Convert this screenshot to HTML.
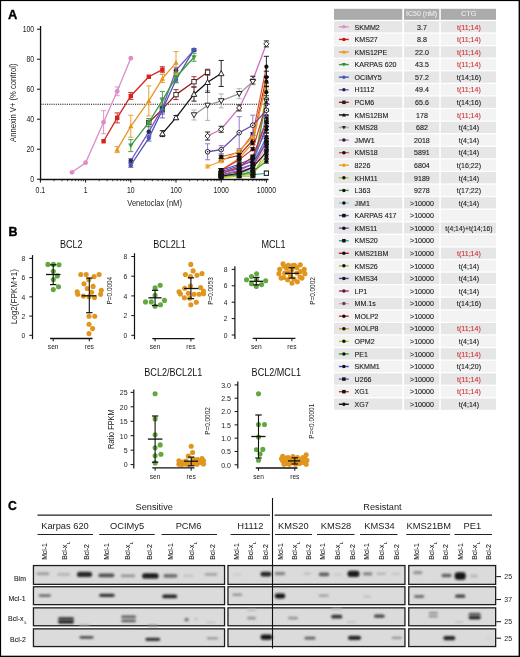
<!DOCTYPE html>
<html><head><meta charset="utf-8"><style>
html,body{margin:0;padding:0;background:#fff;}
svg{display:block;font-family:"Liberation Sans",sans-serif;will-change:transform;}
</style></head><body>
<svg width="520" height="657" viewBox="0 0 520 657">
<rect width="520" height="657" fill="#fff"/>
<text x="8.00" y="18.70" font-size="12.9" text-anchor="start" fill="#000" textLength="9.32" lengthAdjust="spacingAndGlyphs" font-weight="bold" stroke="#000" stroke-width="0.35">A</text>
<line x1="40.55" y1="26.00" x2="40.55" y2="180.10" stroke="#111" stroke-width="1.3"/>
<line x1="37.00" y1="179.20" x2="40.40" y2="179.20" stroke="#111" stroke-width="1.0"/>
<text x="34.20" y="182.10" font-size="8.3" text-anchor="end" fill="#222" textLength="3.83" lengthAdjust="spacingAndGlyphs">0</text>
<line x1="37.00" y1="149.20" x2="40.40" y2="149.20" stroke="#111" stroke-width="1.0"/>
<text x="34.20" y="152.10" font-size="8.3" text-anchor="end" fill="#222" textLength="7.66" lengthAdjust="spacingAndGlyphs">20</text>
<line x1="37.00" y1="119.20" x2="40.40" y2="119.20" stroke="#111" stroke-width="1.0"/>
<text x="34.20" y="122.10" font-size="8.3" text-anchor="end" fill="#222" textLength="7.66" lengthAdjust="spacingAndGlyphs">40</text>
<line x1="37.00" y1="89.20" x2="40.40" y2="89.20" stroke="#111" stroke-width="1.0"/>
<text x="34.20" y="92.10" font-size="8.3" text-anchor="end" fill="#222" textLength="7.66" lengthAdjust="spacingAndGlyphs">60</text>
<line x1="37.00" y1="59.20" x2="40.40" y2="59.20" stroke="#111" stroke-width="1.0"/>
<text x="34.20" y="62.10" font-size="8.3" text-anchor="end" fill="#222" textLength="7.66" lengthAdjust="spacingAndGlyphs">80</text>
<line x1="37.00" y1="29.20" x2="40.40" y2="29.20" stroke="#111" stroke-width="1.0"/>
<text x="34.20" y="32.10" font-size="8.3" text-anchor="end" fill="#222" textLength="11.49" lengthAdjust="spacingAndGlyphs">100</text>
<line x1="39.80" y1="179.40" x2="268.50" y2="179.40" stroke="#111" stroke-width="1.5"/>
<line x1="40.40" y1="179.20" x2="40.40" y2="182.60" stroke="#111" stroke-width="1.0"/>
<text x="40.40" y="192.50" font-size="8.3" text-anchor="middle" fill="#222" textLength="9.58" lengthAdjust="spacingAndGlyphs">0.1</text>
<line x1="54.01" y1="179.20" x2="54.01" y2="181.20" stroke="#111" stroke-width="0.8"/>
<line x1="61.97" y1="179.20" x2="61.97" y2="181.20" stroke="#111" stroke-width="0.8"/>
<line x1="67.61" y1="179.20" x2="67.61" y2="181.20" stroke="#111" stroke-width="0.8"/>
<line x1="71.99" y1="179.20" x2="71.99" y2="181.20" stroke="#111" stroke-width="0.8"/>
<line x1="75.57" y1="179.20" x2="75.57" y2="181.20" stroke="#111" stroke-width="0.8"/>
<line x1="78.60" y1="179.20" x2="78.60" y2="181.20" stroke="#111" stroke-width="0.8"/>
<line x1="81.22" y1="179.20" x2="81.22" y2="181.20" stroke="#111" stroke-width="0.8"/>
<line x1="83.53" y1="179.20" x2="83.53" y2="181.20" stroke="#111" stroke-width="0.8"/>
<line x1="85.60" y1="179.20" x2="85.60" y2="182.60" stroke="#111" stroke-width="1.0"/>
<text x="85.60" y="192.50" font-size="8.3" text-anchor="middle" fill="#222" textLength="3.83" lengthAdjust="spacingAndGlyphs">1</text>
<line x1="99.21" y1="179.20" x2="99.21" y2="181.20" stroke="#111" stroke-width="0.8"/>
<line x1="107.17" y1="179.20" x2="107.17" y2="181.20" stroke="#111" stroke-width="0.8"/>
<line x1="112.81" y1="179.20" x2="112.81" y2="181.20" stroke="#111" stroke-width="0.8"/>
<line x1="117.19" y1="179.20" x2="117.19" y2="181.20" stroke="#111" stroke-width="0.8"/>
<line x1="120.77" y1="179.20" x2="120.77" y2="181.20" stroke="#111" stroke-width="0.8"/>
<line x1="123.80" y1="179.20" x2="123.80" y2="181.20" stroke="#111" stroke-width="0.8"/>
<line x1="126.42" y1="179.20" x2="126.42" y2="181.20" stroke="#111" stroke-width="0.8"/>
<line x1="128.73" y1="179.20" x2="128.73" y2="181.20" stroke="#111" stroke-width="0.8"/>
<line x1="130.80" y1="179.20" x2="130.80" y2="182.60" stroke="#111" stroke-width="1.0"/>
<text x="130.80" y="192.50" font-size="8.3" text-anchor="middle" fill="#222" textLength="7.66" lengthAdjust="spacingAndGlyphs">10</text>
<line x1="144.41" y1="179.20" x2="144.41" y2="181.20" stroke="#111" stroke-width="0.8"/>
<line x1="152.37" y1="179.20" x2="152.37" y2="181.20" stroke="#111" stroke-width="0.8"/>
<line x1="158.01" y1="179.20" x2="158.01" y2="181.20" stroke="#111" stroke-width="0.8"/>
<line x1="162.39" y1="179.20" x2="162.39" y2="181.20" stroke="#111" stroke-width="0.8"/>
<line x1="165.97" y1="179.20" x2="165.97" y2="181.20" stroke="#111" stroke-width="0.8"/>
<line x1="169.00" y1="179.20" x2="169.00" y2="181.20" stroke="#111" stroke-width="0.8"/>
<line x1="171.62" y1="179.20" x2="171.62" y2="181.20" stroke="#111" stroke-width="0.8"/>
<line x1="173.93" y1="179.20" x2="173.93" y2="181.20" stroke="#111" stroke-width="0.8"/>
<line x1="176.00" y1="179.20" x2="176.00" y2="182.60" stroke="#111" stroke-width="1.0"/>
<text x="176.00" y="192.50" font-size="8.3" text-anchor="middle" fill="#222" textLength="11.49" lengthAdjust="spacingAndGlyphs">100</text>
<line x1="189.61" y1="179.20" x2="189.61" y2="181.20" stroke="#111" stroke-width="0.8"/>
<line x1="197.57" y1="179.20" x2="197.57" y2="181.20" stroke="#111" stroke-width="0.8"/>
<line x1="203.21" y1="179.20" x2="203.21" y2="181.20" stroke="#111" stroke-width="0.8"/>
<line x1="207.59" y1="179.20" x2="207.59" y2="181.20" stroke="#111" stroke-width="0.8"/>
<line x1="211.17" y1="179.20" x2="211.17" y2="181.20" stroke="#111" stroke-width="0.8"/>
<line x1="214.20" y1="179.20" x2="214.20" y2="181.20" stroke="#111" stroke-width="0.8"/>
<line x1="216.82" y1="179.20" x2="216.82" y2="181.20" stroke="#111" stroke-width="0.8"/>
<line x1="219.13" y1="179.20" x2="219.13" y2="181.20" stroke="#111" stroke-width="0.8"/>
<line x1="221.20" y1="179.20" x2="221.20" y2="182.60" stroke="#111" stroke-width="1.0"/>
<text x="221.20" y="192.50" font-size="8.3" text-anchor="middle" fill="#222" textLength="15.32" lengthAdjust="spacingAndGlyphs">1000</text>
<line x1="234.81" y1="179.20" x2="234.81" y2="181.20" stroke="#111" stroke-width="0.8"/>
<line x1="242.77" y1="179.20" x2="242.77" y2="181.20" stroke="#111" stroke-width="0.8"/>
<line x1="248.41" y1="179.20" x2="248.41" y2="181.20" stroke="#111" stroke-width="0.8"/>
<line x1="252.79" y1="179.20" x2="252.79" y2="181.20" stroke="#111" stroke-width="0.8"/>
<line x1="256.37" y1="179.20" x2="256.37" y2="181.20" stroke="#111" stroke-width="0.8"/>
<line x1="259.40" y1="179.20" x2="259.40" y2="181.20" stroke="#111" stroke-width="0.8"/>
<line x1="262.02" y1="179.20" x2="262.02" y2="181.20" stroke="#111" stroke-width="0.8"/>
<line x1="264.33" y1="179.20" x2="264.33" y2="181.20" stroke="#111" stroke-width="0.8"/>
<line x1="266.40" y1="179.20" x2="266.40" y2="182.60" stroke="#111" stroke-width="1.0"/>
<text x="266.40" y="192.50" font-size="8.3" text-anchor="middle" fill="#222" textLength="19.15" lengthAdjust="spacingAndGlyphs">10000</text>
<text x="16.30" y="102.70" font-size="8.8" text-anchor="middle" fill="#222" textLength="78.51" lengthAdjust="spacingAndGlyphs" transform="rotate(-90 16.30 102.70)">Annexin V+ (% control)</text>
<text x="154.60" y="205.80" font-size="8.9" text-anchor="middle" fill="#222" textLength="54.66" lengthAdjust="spacingAndGlyphs">Venetoclax (nM)</text>
<line x1="40.40" y1="104.2" x2="270" y2="104.2" stroke="#111" stroke-width="1.1" stroke-dasharray="1.1 1.1"/>
<path d="M221.20 156.70 L239.19 152.20 L252.79 134.20 L266.40 66.70" fill="none" stroke="#e05030" stroke-width="1.15"/>
<line x1="221.20" y1="155.20" x2="221.20" y2="158.20" stroke="#111" stroke-width="0.9"/>
<line x1="218.60" y1="155.20" x2="223.80" y2="155.20" stroke="#111" stroke-width="0.9"/>
<line x1="218.60" y1="158.20" x2="223.80" y2="158.20" stroke="#111" stroke-width="0.9"/>
<line x1="239.19" y1="150.70" x2="239.19" y2="153.70" stroke="#111" stroke-width="0.9"/>
<line x1="236.59" y1="150.70" x2="241.79" y2="150.70" stroke="#111" stroke-width="0.9"/>
<line x1="236.59" y1="153.70" x2="241.79" y2="153.70" stroke="#111" stroke-width="0.9"/>
<line x1="252.79" y1="132.70" x2="252.79" y2="135.70" stroke="#111" stroke-width="0.9"/>
<line x1="250.19" y1="132.70" x2="255.39" y2="132.70" stroke="#111" stroke-width="0.9"/>
<line x1="250.19" y1="135.70" x2="255.39" y2="135.70" stroke="#111" stroke-width="0.9"/>
<line x1="266.40" y1="56.30" x2="266.40" y2="77.10" stroke="#111" stroke-width="0.9"/>
<line x1="263.80" y1="56.30" x2="269.00" y2="56.30" stroke="#111" stroke-width="0.9"/>
<line x1="263.80" y1="77.10" x2="269.00" y2="77.10" stroke="#111" stroke-width="0.9"/>
<circle cx="221.20" cy="156.70" r="2.10" fill="#111"/>
<circle cx="239.19" cy="152.20" r="2.10" fill="#111"/>
<circle cx="252.79" cy="134.20" r="2.10" fill="#111"/>
<circle cx="266.40" cy="66.70" r="2.10" fill="#111"/>
<path d="M221.20 159.70 L239.19 155.20 L252.79 140.20 L266.40 77.20" fill="none" stroke="#b01e1e" stroke-width="1.15"/>
<line x1="221.20" y1="158.20" x2="221.20" y2="161.20" stroke="#111" stroke-width="0.9"/>
<line x1="218.60" y1="158.20" x2="223.80" y2="158.20" stroke="#111" stroke-width="0.9"/>
<line x1="218.60" y1="161.20" x2="223.80" y2="161.20" stroke="#111" stroke-width="0.9"/>
<line x1="239.19" y1="153.70" x2="239.19" y2="156.70" stroke="#111" stroke-width="0.9"/>
<line x1="236.59" y1="153.70" x2="241.79" y2="153.70" stroke="#111" stroke-width="0.9"/>
<line x1="236.59" y1="156.70" x2="241.79" y2="156.70" stroke="#111" stroke-width="0.9"/>
<line x1="252.79" y1="138.70" x2="252.79" y2="141.70" stroke="#111" stroke-width="0.9"/>
<line x1="250.19" y1="138.70" x2="255.39" y2="138.70" stroke="#111" stroke-width="0.9"/>
<line x1="250.19" y1="141.70" x2="255.39" y2="141.70" stroke="#111" stroke-width="0.9"/>
<line x1="266.40" y1="71.20" x2="266.40" y2="83.20" stroke="#111" stroke-width="0.9"/>
<line x1="263.80" y1="71.20" x2="269.00" y2="71.20" stroke="#111" stroke-width="0.9"/>
<line x1="263.80" y1="83.20" x2="269.00" y2="83.20" stroke="#111" stroke-width="0.9"/>
<circle cx="221.20" cy="159.70" r="2.10" fill="#111"/>
<circle cx="239.19" cy="155.20" r="2.10" fill="#111"/>
<circle cx="252.79" cy="140.20" r="2.10" fill="#111"/>
<circle cx="266.40" cy="77.20" r="2.10" fill="#111"/>
<path d="M207.59 166.45 L221.20 161.20 L239.19 150.70 L252.79 137.20 L266.40 86.20" fill="none" stroke="#f0a020" stroke-width="1.15"/>
<line x1="207.59" y1="164.95" x2="207.59" y2="167.95" stroke="#f0a020" stroke-width="0.9"/>
<line x1="204.99" y1="164.95" x2="210.19" y2="164.95" stroke="#f0a020" stroke-width="0.9"/>
<line x1="204.99" y1="167.95" x2="210.19" y2="167.95" stroke="#f0a020" stroke-width="0.9"/>
<line x1="221.20" y1="159.70" x2="221.20" y2="162.70" stroke="#f0a020" stroke-width="0.9"/>
<line x1="218.60" y1="159.70" x2="223.80" y2="159.70" stroke="#f0a020" stroke-width="0.9"/>
<line x1="218.60" y1="162.70" x2="223.80" y2="162.70" stroke="#f0a020" stroke-width="0.9"/>
<line x1="239.19" y1="149.20" x2="239.19" y2="152.20" stroke="#f0a020" stroke-width="0.9"/>
<line x1="236.59" y1="149.20" x2="241.79" y2="149.20" stroke="#f0a020" stroke-width="0.9"/>
<line x1="236.59" y1="152.20" x2="241.79" y2="152.20" stroke="#f0a020" stroke-width="0.9"/>
<line x1="252.79" y1="135.70" x2="252.79" y2="138.70" stroke="#f0a020" stroke-width="0.9"/>
<line x1="250.19" y1="135.70" x2="255.39" y2="135.70" stroke="#f0a020" stroke-width="0.9"/>
<line x1="250.19" y1="138.70" x2="255.39" y2="138.70" stroke="#f0a020" stroke-width="0.9"/>
<line x1="266.40" y1="83.20" x2="266.40" y2="89.20" stroke="#f0a020" stroke-width="0.9"/>
<line x1="263.80" y1="83.20" x2="269.00" y2="83.20" stroke="#f0a020" stroke-width="0.9"/>
<line x1="263.80" y1="89.20" x2="269.00" y2="89.20" stroke="#f0a020" stroke-width="0.9"/>
<path d="M205.49 166.45H209.69M207.59 164.35V168.55M206.12 164.98L209.06 167.92M209.06 164.98L206.12 167.92" stroke="#f0a020" stroke-width="0.8"/>
<path d="M219.10 161.20H223.30M221.20 159.10V163.30M219.73 159.73L222.67 162.67M222.67 159.73L219.73 162.67" stroke="#f0a020" stroke-width="0.8"/>
<path d="M237.09 150.70H241.29M239.19 148.60V152.80M237.72 149.23L240.66 152.17M240.66 149.23L237.72 152.17" stroke="#f0a020" stroke-width="0.8"/>
<path d="M250.69 137.20H254.89M252.79 135.10V139.30M251.32 135.73L254.26 138.67M254.26 135.73L251.32 138.67" stroke="#f0a020" stroke-width="0.8"/>
<path d="M264.30 86.20H268.50M266.40 84.10V88.30M264.93 84.73L267.87 87.67M267.87 84.73L264.93 87.67" stroke="#f0a020" stroke-width="0.8"/>
<path d="M221.20 170.20 L239.19 158.20 L252.79 143.20 L266.40 81.70" fill="none" stroke="#e89520" stroke-width="1.15"/>
<line x1="221.20" y1="168.70" x2="221.20" y2="171.70" stroke="#111" stroke-width="0.9"/>
<line x1="218.60" y1="168.70" x2="223.80" y2="168.70" stroke="#111" stroke-width="0.9"/>
<line x1="218.60" y1="171.70" x2="223.80" y2="171.70" stroke="#111" stroke-width="0.9"/>
<line x1="239.19" y1="156.70" x2="239.19" y2="159.70" stroke="#111" stroke-width="0.9"/>
<line x1="236.59" y1="156.70" x2="241.79" y2="156.70" stroke="#111" stroke-width="0.9"/>
<line x1="236.59" y1="159.70" x2="241.79" y2="159.70" stroke="#111" stroke-width="0.9"/>
<line x1="252.79" y1="141.70" x2="252.79" y2="144.70" stroke="#111" stroke-width="0.9"/>
<line x1="250.19" y1="141.70" x2="255.39" y2="141.70" stroke="#111" stroke-width="0.9"/>
<line x1="250.19" y1="144.70" x2="255.39" y2="144.70" stroke="#111" stroke-width="0.9"/>
<line x1="266.40" y1="76.70" x2="266.40" y2="86.70" stroke="#111" stroke-width="0.9"/>
<line x1="263.80" y1="76.70" x2="269.00" y2="76.70" stroke="#111" stroke-width="0.9"/>
<line x1="263.80" y1="86.70" x2="269.00" y2="86.70" stroke="#111" stroke-width="0.9"/>
<circle cx="221.20" cy="170.20" r="2.10" fill="#111"/>
<circle cx="239.19" cy="158.20" r="2.10" fill="#111"/>
<circle cx="252.79" cy="143.20" r="2.10" fill="#111"/>
<circle cx="266.40" cy="81.70" r="2.10" fill="#111"/>
<path d="M221.20 170.20 L239.19 164.20 L252.79 158.20 L266.40 119.20" fill="none" stroke="#4050c0" stroke-width="1.15"/>
<line x1="221.20" y1="168.70" x2="221.20" y2="171.70" stroke="#111" stroke-width="0.9"/>
<line x1="218.60" y1="168.70" x2="223.80" y2="168.70" stroke="#111" stroke-width="0.9"/>
<line x1="218.60" y1="171.70" x2="223.80" y2="171.70" stroke="#111" stroke-width="0.9"/>
<line x1="239.19" y1="162.70" x2="239.19" y2="165.70" stroke="#111" stroke-width="0.9"/>
<line x1="236.59" y1="162.70" x2="241.79" y2="162.70" stroke="#111" stroke-width="0.9"/>
<line x1="236.59" y1="165.70" x2="241.79" y2="165.70" stroke="#111" stroke-width="0.9"/>
<line x1="252.79" y1="156.70" x2="252.79" y2="159.70" stroke="#111" stroke-width="0.9"/>
<line x1="250.19" y1="156.70" x2="255.39" y2="156.70" stroke="#111" stroke-width="0.9"/>
<line x1="250.19" y1="159.70" x2="255.39" y2="159.70" stroke="#111" stroke-width="0.9"/>
<line x1="266.40" y1="115.20" x2="266.40" y2="123.20" stroke="#111" stroke-width="0.9"/>
<line x1="263.80" y1="115.20" x2="269.00" y2="115.20" stroke="#111" stroke-width="0.9"/>
<line x1="263.80" y1="123.20" x2="269.00" y2="123.20" stroke="#111" stroke-width="0.9"/>
<circle cx="221.20" cy="170.20" r="2.10" fill="#111"/>
<circle cx="239.19" cy="164.20" r="2.10" fill="#111"/>
<circle cx="252.79" cy="158.20" r="2.10" fill="#111"/>
<circle cx="266.40" cy="119.20" r="2.10" fill="#111"/>
<path d="M221.20 171.70 L239.19 165.70 L252.79 161.20 L266.40 126.70" fill="none" stroke="#5a3cb0" stroke-width="1.15"/>
<line x1="221.20" y1="170.20" x2="221.20" y2="173.20" stroke="#111" stroke-width="0.9"/>
<line x1="218.60" y1="170.20" x2="223.80" y2="170.20" stroke="#111" stroke-width="0.9"/>
<line x1="218.60" y1="173.20" x2="223.80" y2="173.20" stroke="#111" stroke-width="0.9"/>
<line x1="239.19" y1="164.20" x2="239.19" y2="167.20" stroke="#111" stroke-width="0.9"/>
<line x1="236.59" y1="164.20" x2="241.79" y2="164.20" stroke="#111" stroke-width="0.9"/>
<line x1="236.59" y1="167.20" x2="241.79" y2="167.20" stroke="#111" stroke-width="0.9"/>
<line x1="252.79" y1="159.70" x2="252.79" y2="162.70" stroke="#111" stroke-width="0.9"/>
<line x1="250.19" y1="159.70" x2="255.39" y2="159.70" stroke="#111" stroke-width="0.9"/>
<line x1="250.19" y1="162.70" x2="255.39" y2="162.70" stroke="#111" stroke-width="0.9"/>
<line x1="266.40" y1="123.70" x2="266.40" y2="129.70" stroke="#111" stroke-width="0.9"/>
<line x1="263.80" y1="123.70" x2="269.00" y2="123.70" stroke="#111" stroke-width="0.9"/>
<line x1="263.80" y1="129.70" x2="269.00" y2="129.70" stroke="#111" stroke-width="0.9"/>
<circle cx="221.20" cy="171.70" r="2.10" fill="#111"/>
<circle cx="239.19" cy="165.70" r="2.10" fill="#111"/>
<circle cx="252.79" cy="161.20" r="2.10" fill="#111"/>
<circle cx="266.40" cy="126.70" r="2.10" fill="#111"/>
<path d="M221.20 176.20 L239.19 174.70 L252.79 173.20 L266.40 92.20" fill="none" stroke="#a8c830" stroke-width="1.15"/>
<line x1="221.20" y1="174.70" x2="221.20" y2="177.70" stroke="#111" stroke-width="0.9"/>
<line x1="218.60" y1="174.70" x2="223.80" y2="174.70" stroke="#111" stroke-width="0.9"/>
<line x1="218.60" y1="177.70" x2="223.80" y2="177.70" stroke="#111" stroke-width="0.9"/>
<line x1="239.19" y1="173.20" x2="239.19" y2="176.20" stroke="#111" stroke-width="0.9"/>
<line x1="236.59" y1="173.20" x2="241.79" y2="173.20" stroke="#111" stroke-width="0.9"/>
<line x1="236.59" y1="176.20" x2="241.79" y2="176.20" stroke="#111" stroke-width="0.9"/>
<line x1="252.79" y1="171.70" x2="252.79" y2="174.70" stroke="#111" stroke-width="0.9"/>
<line x1="250.19" y1="171.70" x2="255.39" y2="171.70" stroke="#111" stroke-width="0.9"/>
<line x1="250.19" y1="174.70" x2="255.39" y2="174.70" stroke="#111" stroke-width="0.9"/>
<line x1="266.40" y1="86.20" x2="266.40" y2="98.20" stroke="#111" stroke-width="0.9"/>
<line x1="263.80" y1="86.20" x2="269.00" y2="86.20" stroke="#111" stroke-width="0.9"/>
<line x1="263.80" y1="98.20" x2="269.00" y2="98.20" stroke="#111" stroke-width="0.9"/>
<circle cx="221.20" cy="176.20" r="2.10" fill="#111"/>
<circle cx="239.19" cy="174.70" r="2.10" fill="#111"/>
<circle cx="252.79" cy="173.20" r="2.10" fill="#111"/>
<circle cx="266.40" cy="92.20" r="2.10" fill="#111"/>
<path d="M221.20 174.70 L239.19 174.70 L252.79 171.70 L266.40 99.70" fill="none" stroke="#40a040" stroke-width="1.15"/>
<line x1="221.20" y1="173.20" x2="221.20" y2="176.20" stroke="#333" stroke-width="0.9"/>
<line x1="218.60" y1="173.20" x2="223.80" y2="173.20" stroke="#333" stroke-width="0.9"/>
<line x1="218.60" y1="176.20" x2="223.80" y2="176.20" stroke="#333" stroke-width="0.9"/>
<line x1="239.19" y1="173.20" x2="239.19" y2="176.20" stroke="#333" stroke-width="0.9"/>
<line x1="236.59" y1="173.20" x2="241.79" y2="173.20" stroke="#333" stroke-width="0.9"/>
<line x1="236.59" y1="176.20" x2="241.79" y2="176.20" stroke="#333" stroke-width="0.9"/>
<line x1="252.79" y1="170.20" x2="252.79" y2="173.20" stroke="#333" stroke-width="0.9"/>
<line x1="250.19" y1="170.20" x2="255.39" y2="170.20" stroke="#333" stroke-width="0.9"/>
<line x1="250.19" y1="173.20" x2="255.39" y2="173.20" stroke="#333" stroke-width="0.9"/>
<line x1="266.40" y1="95.70" x2="266.40" y2="103.70" stroke="#333" stroke-width="0.9"/>
<line x1="263.80" y1="95.70" x2="269.00" y2="95.70" stroke="#333" stroke-width="0.9"/>
<line x1="263.80" y1="103.70" x2="269.00" y2="103.70" stroke="#333" stroke-width="0.9"/>
<circle cx="221.20" cy="174.70" r="2.10" fill="#fff" stroke="#333" stroke-width="0.9"/>
<circle cx="221.20" cy="174.70" r="0.73" fill="#333"/>
<circle cx="239.19" cy="174.70" r="2.10" fill="#fff" stroke="#333" stroke-width="0.9"/>
<circle cx="239.19" cy="174.70" r="0.73" fill="#333"/>
<circle cx="252.79" cy="171.70" r="2.10" fill="#fff" stroke="#333" stroke-width="0.9"/>
<circle cx="252.79" cy="171.70" r="0.73" fill="#333"/>
<circle cx="266.40" cy="99.70" r="2.10" fill="#fff" stroke="#333" stroke-width="0.9"/>
<circle cx="266.40" cy="99.70" r="0.73" fill="#333"/>
<path d="M221.20 176.20 L239.19 173.20 L252.79 170.20 L266.40 116.20" fill="none" stroke="#80c8e8" stroke-width="1.15"/>
<line x1="221.20" y1="174.70" x2="221.20" y2="177.70" stroke="#111" stroke-width="0.9"/>
<line x1="218.60" y1="174.70" x2="223.80" y2="174.70" stroke="#111" stroke-width="0.9"/>
<line x1="218.60" y1="177.70" x2="223.80" y2="177.70" stroke="#111" stroke-width="0.9"/>
<line x1="239.19" y1="171.70" x2="239.19" y2="174.70" stroke="#111" stroke-width="0.9"/>
<line x1="236.59" y1="171.70" x2="241.79" y2="171.70" stroke="#111" stroke-width="0.9"/>
<line x1="236.59" y1="174.70" x2="241.79" y2="174.70" stroke="#111" stroke-width="0.9"/>
<line x1="252.79" y1="168.70" x2="252.79" y2="171.70" stroke="#111" stroke-width="0.9"/>
<line x1="250.19" y1="168.70" x2="255.39" y2="168.70" stroke="#111" stroke-width="0.9"/>
<line x1="250.19" y1="171.70" x2="255.39" y2="171.70" stroke="#111" stroke-width="0.9"/>
<line x1="266.40" y1="111.20" x2="266.40" y2="121.20" stroke="#111" stroke-width="0.9"/>
<line x1="263.80" y1="111.20" x2="269.00" y2="111.20" stroke="#111" stroke-width="0.9"/>
<line x1="263.80" y1="121.20" x2="269.00" y2="121.20" stroke="#111" stroke-width="0.9"/>
<circle cx="221.20" cy="176.20" r="2.10" fill="#111"/>
<circle cx="239.19" cy="173.20" r="2.10" fill="#111"/>
<circle cx="252.79" cy="170.20" r="2.10" fill="#111"/>
<circle cx="266.40" cy="116.20" r="2.10" fill="#111"/>
<path d="M221.20 174.70 L239.19 174.70 L252.79 174.70 L266.40 173.20" fill="none" stroke="#40a0a0" stroke-width="1.15"/>
<line x1="221.20" y1="173.20" x2="221.20" y2="176.20" stroke="#111" stroke-width="0.9"/>
<line x1="218.60" y1="173.20" x2="223.80" y2="173.20" stroke="#111" stroke-width="0.9"/>
<line x1="218.60" y1="176.20" x2="223.80" y2="176.20" stroke="#111" stroke-width="0.9"/>
<line x1="239.19" y1="173.20" x2="239.19" y2="176.20" stroke="#111" stroke-width="0.9"/>
<line x1="236.59" y1="173.20" x2="241.79" y2="173.20" stroke="#111" stroke-width="0.9"/>
<line x1="236.59" y1="176.20" x2="241.79" y2="176.20" stroke="#111" stroke-width="0.9"/>
<line x1="252.79" y1="173.20" x2="252.79" y2="176.20" stroke="#111" stroke-width="0.9"/>
<line x1="250.19" y1="173.20" x2="255.39" y2="173.20" stroke="#111" stroke-width="0.9"/>
<line x1="250.19" y1="176.20" x2="255.39" y2="176.20" stroke="#111" stroke-width="0.9"/>
<line x1="266.40" y1="171.20" x2="266.40" y2="175.20" stroke="#111" stroke-width="0.9"/>
<line x1="263.80" y1="171.20" x2="269.00" y2="171.20" stroke="#111" stroke-width="0.9"/>
<line x1="263.80" y1="175.20" x2="269.00" y2="175.20" stroke="#111" stroke-width="0.9"/>
<rect x="219.10" y="172.60" width="4.20" height="4.20" fill="#fff" stroke="#111" stroke-width="0.9"/>
<rect x="237.09" y="172.60" width="4.20" height="4.20" fill="#fff" stroke="#111" stroke-width="0.9"/>
<rect x="250.69" y="172.60" width="4.20" height="4.20" fill="#fff" stroke="#111" stroke-width="0.9"/>
<rect x="264.30" y="171.10" width="4.20" height="4.20" fill="#fff" stroke="#111" stroke-width="0.9"/>
<path d="M221.20 173.20 L239.19 168.70 L252.79 164.20 L266.40 137.20" fill="none" stroke="#5060c0" stroke-width="1.15"/>
<line x1="221.20" y1="171.70" x2="221.20" y2="174.70" stroke="#111" stroke-width="0.9"/>
<line x1="218.60" y1="171.70" x2="223.80" y2="171.70" stroke="#111" stroke-width="0.9"/>
<line x1="218.60" y1="174.70" x2="223.80" y2="174.70" stroke="#111" stroke-width="0.9"/>
<line x1="239.19" y1="167.20" x2="239.19" y2="170.20" stroke="#111" stroke-width="0.9"/>
<line x1="236.59" y1="167.20" x2="241.79" y2="167.20" stroke="#111" stroke-width="0.9"/>
<line x1="236.59" y1="170.20" x2="241.79" y2="170.20" stroke="#111" stroke-width="0.9"/>
<line x1="252.79" y1="162.70" x2="252.79" y2="165.70" stroke="#111" stroke-width="0.9"/>
<line x1="250.19" y1="162.70" x2="255.39" y2="162.70" stroke="#111" stroke-width="0.9"/>
<line x1="250.19" y1="165.70" x2="255.39" y2="165.70" stroke="#111" stroke-width="0.9"/>
<line x1="266.40" y1="133.20" x2="266.40" y2="141.20" stroke="#111" stroke-width="0.9"/>
<line x1="263.80" y1="133.20" x2="269.00" y2="133.20" stroke="#111" stroke-width="0.9"/>
<line x1="263.80" y1="141.20" x2="269.00" y2="141.20" stroke="#111" stroke-width="0.9"/>
<rect x="219.10" y="171.10" width="4.20" height="4.20" fill="#111"/>
<rect x="237.09" y="166.60" width="4.20" height="4.20" fill="#111"/>
<rect x="250.69" y="162.10" width="4.20" height="4.20" fill="#111"/>
<rect x="264.30" y="135.10" width="4.20" height="4.20" fill="#111"/>
<path d="M221.20 173.20 L239.19 167.20 L252.79 159.70 L266.40 129.70" fill="none" stroke="#8050c0" stroke-width="1.15"/>
<line x1="221.20" y1="171.70" x2="221.20" y2="174.70" stroke="#111" stroke-width="0.9"/>
<line x1="218.60" y1="171.70" x2="223.80" y2="171.70" stroke="#111" stroke-width="0.9"/>
<line x1="218.60" y1="174.70" x2="223.80" y2="174.70" stroke="#111" stroke-width="0.9"/>
<line x1="239.19" y1="165.70" x2="239.19" y2="168.70" stroke="#111" stroke-width="0.9"/>
<line x1="236.59" y1="165.70" x2="241.79" y2="165.70" stroke="#111" stroke-width="0.9"/>
<line x1="236.59" y1="168.70" x2="241.79" y2="168.70" stroke="#111" stroke-width="0.9"/>
<line x1="252.79" y1="158.20" x2="252.79" y2="161.20" stroke="#111" stroke-width="0.9"/>
<line x1="250.19" y1="158.20" x2="255.39" y2="158.20" stroke="#111" stroke-width="0.9"/>
<line x1="250.19" y1="161.20" x2="255.39" y2="161.20" stroke="#111" stroke-width="0.9"/>
<line x1="266.40" y1="126.70" x2="266.40" y2="132.70" stroke="#111" stroke-width="0.9"/>
<line x1="263.80" y1="126.70" x2="269.00" y2="126.70" stroke="#111" stroke-width="0.9"/>
<line x1="263.80" y1="132.70" x2="269.00" y2="132.70" stroke="#111" stroke-width="0.9"/>
<circle cx="221.20" cy="173.20" r="2.10" fill="#111"/>
<circle cx="239.19" cy="167.20" r="2.10" fill="#111"/>
<circle cx="252.79" cy="159.70" r="2.10" fill="#111"/>
<circle cx="266.40" cy="129.70" r="2.10" fill="#111"/>
<path d="M221.20 176.20 L239.19 176.20 L252.79 176.20 L266.40 149.20" fill="none" stroke="#b8b040" stroke-width="1.15"/>
<line x1="221.20" y1="174.70" x2="221.20" y2="177.70" stroke="#111" stroke-width="0.9"/>
<line x1="218.60" y1="174.70" x2="223.80" y2="174.70" stroke="#111" stroke-width="0.9"/>
<line x1="218.60" y1="177.70" x2="223.80" y2="177.70" stroke="#111" stroke-width="0.9"/>
<line x1="239.19" y1="174.70" x2="239.19" y2="177.70" stroke="#111" stroke-width="0.9"/>
<line x1="236.59" y1="174.70" x2="241.79" y2="174.70" stroke="#111" stroke-width="0.9"/>
<line x1="236.59" y1="177.70" x2="241.79" y2="177.70" stroke="#111" stroke-width="0.9"/>
<line x1="252.79" y1="174.70" x2="252.79" y2="177.70" stroke="#111" stroke-width="0.9"/>
<line x1="250.19" y1="174.70" x2="255.39" y2="174.70" stroke="#111" stroke-width="0.9"/>
<line x1="250.19" y1="177.70" x2="255.39" y2="177.70" stroke="#111" stroke-width="0.9"/>
<line x1="266.40" y1="147.20" x2="266.40" y2="151.20" stroke="#111" stroke-width="0.9"/>
<line x1="263.80" y1="147.20" x2="269.00" y2="147.20" stroke="#111" stroke-width="0.9"/>
<line x1="263.80" y1="151.20" x2="269.00" y2="151.20" stroke="#111" stroke-width="0.9"/>
<circle cx="221.20" cy="176.20" r="2.10" fill="#111"/>
<circle cx="239.19" cy="176.20" r="2.10" fill="#111"/>
<circle cx="252.79" cy="176.20" r="2.10" fill="#111"/>
<circle cx="266.40" cy="149.20" r="2.10" fill="#111"/>
<path d="M221.20 174.70 L239.19 171.70 L252.79 167.20 L266.40 141.70" fill="none" stroke="#b03060" stroke-width="1.15"/>
<line x1="221.20" y1="173.20" x2="221.20" y2="176.20" stroke="#111" stroke-width="0.9"/>
<line x1="218.60" y1="173.20" x2="223.80" y2="173.20" stroke="#111" stroke-width="0.9"/>
<line x1="218.60" y1="176.20" x2="223.80" y2="176.20" stroke="#111" stroke-width="0.9"/>
<line x1="239.19" y1="170.20" x2="239.19" y2="173.20" stroke="#111" stroke-width="0.9"/>
<line x1="236.59" y1="170.20" x2="241.79" y2="170.20" stroke="#111" stroke-width="0.9"/>
<line x1="236.59" y1="173.20" x2="241.79" y2="173.20" stroke="#111" stroke-width="0.9"/>
<line x1="252.79" y1="165.70" x2="252.79" y2="168.70" stroke="#111" stroke-width="0.9"/>
<line x1="250.19" y1="165.70" x2="255.39" y2="165.70" stroke="#111" stroke-width="0.9"/>
<line x1="250.19" y1="168.70" x2="255.39" y2="168.70" stroke="#111" stroke-width="0.9"/>
<line x1="266.40" y1="138.70" x2="266.40" y2="144.70" stroke="#111" stroke-width="0.9"/>
<line x1="263.80" y1="138.70" x2="269.00" y2="138.70" stroke="#111" stroke-width="0.9"/>
<line x1="263.80" y1="144.70" x2="269.00" y2="144.70" stroke="#111" stroke-width="0.9"/>
<circle cx="221.20" cy="174.70" r="2.10" fill="#111"/>
<circle cx="239.19" cy="171.70" r="2.10" fill="#111"/>
<circle cx="252.79" cy="167.20" r="2.10" fill="#111"/>
<circle cx="266.40" cy="141.70" r="2.10" fill="#111"/>
<path d="M221.20 176.20 L239.19 173.20 L252.79 168.70 L266.40 146.20" fill="none" stroke="#e0a0d0" stroke-width="1.15"/>
<line x1="221.20" y1="174.70" x2="221.20" y2="177.70" stroke="#111" stroke-width="0.9"/>
<line x1="218.60" y1="174.70" x2="223.80" y2="174.70" stroke="#111" stroke-width="0.9"/>
<line x1="218.60" y1="177.70" x2="223.80" y2="177.70" stroke="#111" stroke-width="0.9"/>
<line x1="239.19" y1="171.70" x2="239.19" y2="174.70" stroke="#111" stroke-width="0.9"/>
<line x1="236.59" y1="171.70" x2="241.79" y2="171.70" stroke="#111" stroke-width="0.9"/>
<line x1="236.59" y1="174.70" x2="241.79" y2="174.70" stroke="#111" stroke-width="0.9"/>
<line x1="252.79" y1="167.20" x2="252.79" y2="170.20" stroke="#111" stroke-width="0.9"/>
<line x1="250.19" y1="167.20" x2="255.39" y2="167.20" stroke="#111" stroke-width="0.9"/>
<line x1="250.19" y1="170.20" x2="255.39" y2="170.20" stroke="#111" stroke-width="0.9"/>
<line x1="266.40" y1="143.20" x2="266.40" y2="149.20" stroke="#111" stroke-width="0.9"/>
<line x1="263.80" y1="143.20" x2="269.00" y2="143.20" stroke="#111" stroke-width="0.9"/>
<line x1="263.80" y1="149.20" x2="269.00" y2="149.20" stroke="#111" stroke-width="0.9"/>
<circle cx="221.20" cy="176.20" r="2.10" fill="#111"/>
<circle cx="239.19" cy="173.20" r="2.10" fill="#111"/>
<circle cx="252.79" cy="168.70" r="2.10" fill="#111"/>
<circle cx="266.40" cy="146.20" r="2.10" fill="#111"/>
<path d="M221.20 170.20 L239.19 159.70 L252.79 149.20 L266.40 104.20" fill="none" stroke="#d83030" stroke-width="1.15"/>
<line x1="221.20" y1="168.70" x2="221.20" y2="171.70" stroke="#111" stroke-width="0.9"/>
<line x1="218.60" y1="168.70" x2="223.80" y2="168.70" stroke="#111" stroke-width="0.9"/>
<line x1="218.60" y1="171.70" x2="223.80" y2="171.70" stroke="#111" stroke-width="0.9"/>
<line x1="239.19" y1="158.20" x2="239.19" y2="161.20" stroke="#111" stroke-width="0.9"/>
<line x1="236.59" y1="158.20" x2="241.79" y2="158.20" stroke="#111" stroke-width="0.9"/>
<line x1="236.59" y1="161.20" x2="241.79" y2="161.20" stroke="#111" stroke-width="0.9"/>
<line x1="252.79" y1="147.70" x2="252.79" y2="150.70" stroke="#111" stroke-width="0.9"/>
<line x1="250.19" y1="147.70" x2="255.39" y2="147.70" stroke="#111" stroke-width="0.9"/>
<line x1="250.19" y1="150.70" x2="255.39" y2="150.70" stroke="#111" stroke-width="0.9"/>
<line x1="266.40" y1="99.20" x2="266.40" y2="109.20" stroke="#111" stroke-width="0.9"/>
<line x1="263.80" y1="99.20" x2="269.00" y2="99.20" stroke="#111" stroke-width="0.9"/>
<line x1="263.80" y1="109.20" x2="269.00" y2="109.20" stroke="#111" stroke-width="0.9"/>
<circle cx="221.20" cy="170.20" r="2.10" fill="#111"/>
<circle cx="239.19" cy="159.70" r="2.10" fill="#111"/>
<circle cx="252.79" cy="149.20" r="2.10" fill="#111"/>
<circle cx="266.40" cy="104.20" r="2.10" fill="#111"/>
<path d="M221.20 177.70 L239.19 176.20 L252.79 173.20 L266.40 156.70" fill="none" stroke="#b0d020" stroke-width="1.15"/>
<line x1="221.20" y1="176.20" x2="221.20" y2="179.20" stroke="#111" stroke-width="0.9"/>
<line x1="218.60" y1="176.20" x2="223.80" y2="176.20" stroke="#111" stroke-width="0.9"/>
<line x1="218.60" y1="179.20" x2="223.80" y2="179.20" stroke="#111" stroke-width="0.9"/>
<line x1="239.19" y1="174.70" x2="239.19" y2="177.70" stroke="#111" stroke-width="0.9"/>
<line x1="236.59" y1="174.70" x2="241.79" y2="174.70" stroke="#111" stroke-width="0.9"/>
<line x1="236.59" y1="177.70" x2="241.79" y2="177.70" stroke="#111" stroke-width="0.9"/>
<line x1="252.79" y1="171.70" x2="252.79" y2="174.70" stroke="#111" stroke-width="0.9"/>
<line x1="250.19" y1="171.70" x2="255.39" y2="171.70" stroke="#111" stroke-width="0.9"/>
<line x1="250.19" y1="174.70" x2="255.39" y2="174.70" stroke="#111" stroke-width="0.9"/>
<line x1="266.40" y1="154.70" x2="266.40" y2="158.70" stroke="#111" stroke-width="0.9"/>
<line x1="263.80" y1="154.70" x2="269.00" y2="154.70" stroke="#111" stroke-width="0.9"/>
<line x1="263.80" y1="158.70" x2="269.00" y2="158.70" stroke="#111" stroke-width="0.9"/>
<circle cx="221.20" cy="177.70" r="2.10" fill="#111"/>
<circle cx="239.19" cy="176.20" r="2.10" fill="#111"/>
<circle cx="252.79" cy="173.20" r="2.10" fill="#111"/>
<circle cx="266.40" cy="156.70" r="2.10" fill="#111"/>
<path d="M221.20 176.20 L239.19 174.70 L252.79 171.70 L266.40 161.20" fill="none" stroke="#3c9a3c" stroke-width="1.15"/>
<line x1="221.20" y1="174.70" x2="221.20" y2="177.70" stroke="#111" stroke-width="0.9"/>
<line x1="218.60" y1="174.70" x2="223.80" y2="174.70" stroke="#111" stroke-width="0.9"/>
<line x1="218.60" y1="177.70" x2="223.80" y2="177.70" stroke="#111" stroke-width="0.9"/>
<line x1="239.19" y1="173.20" x2="239.19" y2="176.20" stroke="#111" stroke-width="0.9"/>
<line x1="236.59" y1="173.20" x2="241.79" y2="173.20" stroke="#111" stroke-width="0.9"/>
<line x1="236.59" y1="176.20" x2="241.79" y2="176.20" stroke="#111" stroke-width="0.9"/>
<line x1="252.79" y1="170.20" x2="252.79" y2="173.20" stroke="#111" stroke-width="0.9"/>
<line x1="250.19" y1="170.20" x2="255.39" y2="170.20" stroke="#111" stroke-width="0.9"/>
<line x1="250.19" y1="173.20" x2="255.39" y2="173.20" stroke="#111" stroke-width="0.9"/>
<line x1="266.40" y1="159.20" x2="266.40" y2="163.20" stroke="#111" stroke-width="0.9"/>
<line x1="263.80" y1="159.20" x2="269.00" y2="159.20" stroke="#111" stroke-width="0.9"/>
<line x1="263.80" y1="163.20" x2="269.00" y2="163.20" stroke="#111" stroke-width="0.9"/>
<circle cx="221.20" cy="176.20" r="2.10" fill="#111"/>
<circle cx="239.19" cy="174.70" r="2.10" fill="#111"/>
<circle cx="252.79" cy="171.70" r="2.10" fill="#111"/>
<circle cx="266.40" cy="161.20" r="2.10" fill="#111"/>
<path d="M221.20 174.70 L239.19 170.20 L252.79 164.20 L266.40 141.70" fill="none" stroke="#7a55c0" stroke-width="1.15"/>
<line x1="221.20" y1="173.20" x2="221.20" y2="176.20" stroke="#111" stroke-width="0.9"/>
<line x1="218.60" y1="173.20" x2="223.80" y2="173.20" stroke="#111" stroke-width="0.9"/>
<line x1="218.60" y1="176.20" x2="223.80" y2="176.20" stroke="#111" stroke-width="0.9"/>
<line x1="239.19" y1="168.70" x2="239.19" y2="171.70" stroke="#111" stroke-width="0.9"/>
<line x1="236.59" y1="168.70" x2="241.79" y2="168.70" stroke="#111" stroke-width="0.9"/>
<line x1="236.59" y1="171.70" x2="241.79" y2="171.70" stroke="#111" stroke-width="0.9"/>
<line x1="252.79" y1="162.70" x2="252.79" y2="165.70" stroke="#111" stroke-width="0.9"/>
<line x1="250.19" y1="162.70" x2="255.39" y2="162.70" stroke="#111" stroke-width="0.9"/>
<line x1="250.19" y1="165.70" x2="255.39" y2="165.70" stroke="#111" stroke-width="0.9"/>
<line x1="266.40" y1="138.70" x2="266.40" y2="144.70" stroke="#111" stroke-width="0.9"/>
<line x1="263.80" y1="138.70" x2="269.00" y2="138.70" stroke="#111" stroke-width="0.9"/>
<line x1="263.80" y1="144.70" x2="269.00" y2="144.70" stroke="#111" stroke-width="0.9"/>
<rect x="219.10" y="172.60" width="4.20" height="4.20" fill="#111"/>
<rect x="237.09" y="168.10" width="4.20" height="4.20" fill="#111"/>
<rect x="250.69" y="162.10" width="4.20" height="4.20" fill="#111"/>
<rect x="264.30" y="139.60" width="4.20" height="4.20" fill="#111"/>
<path d="M221.20 173.20 L239.19 167.20 L252.79 156.70 L266.40 122.20" fill="none" stroke="#c83030" stroke-width="1.15"/>
<line x1="221.20" y1="171.70" x2="221.20" y2="174.70" stroke="#111" stroke-width="0.9"/>
<line x1="218.60" y1="171.70" x2="223.80" y2="171.70" stroke="#111" stroke-width="0.9"/>
<line x1="218.60" y1="174.70" x2="223.80" y2="174.70" stroke="#111" stroke-width="0.9"/>
<line x1="239.19" y1="165.70" x2="239.19" y2="168.70" stroke="#111" stroke-width="0.9"/>
<line x1="236.59" y1="165.70" x2="241.79" y2="165.70" stroke="#111" stroke-width="0.9"/>
<line x1="236.59" y1="168.70" x2="241.79" y2="168.70" stroke="#111" stroke-width="0.9"/>
<line x1="252.79" y1="155.20" x2="252.79" y2="158.20" stroke="#111" stroke-width="0.9"/>
<line x1="250.19" y1="155.20" x2="255.39" y2="155.20" stroke="#111" stroke-width="0.9"/>
<line x1="250.19" y1="158.20" x2="255.39" y2="158.20" stroke="#111" stroke-width="0.9"/>
<line x1="266.40" y1="118.20" x2="266.40" y2="126.20" stroke="#111" stroke-width="0.9"/>
<line x1="263.80" y1="118.20" x2="269.00" y2="118.20" stroke="#111" stroke-width="0.9"/>
<line x1="263.80" y1="126.20" x2="269.00" y2="126.20" stroke="#111" stroke-width="0.9"/>
<rect x="219.10" y="171.10" width="4.20" height="4.20" fill="#111"/>
<rect x="237.09" y="165.10" width="4.20" height="4.20" fill="#111"/>
<rect x="250.69" y="154.60" width="4.20" height="4.20" fill="#111"/>
<rect x="264.30" y="120.10" width="4.20" height="4.20" fill="#111"/>
<path d="M221.20 176.20 L239.19 173.20 L252.79 167.20 L266.40 152.20" fill="none" stroke="#111111" stroke-width="1.15"/>
<line x1="221.20" y1="174.70" x2="221.20" y2="177.70" stroke="#111" stroke-width="0.9"/>
<line x1="218.60" y1="174.70" x2="223.80" y2="174.70" stroke="#111" stroke-width="0.9"/>
<line x1="218.60" y1="177.70" x2="223.80" y2="177.70" stroke="#111" stroke-width="0.9"/>
<line x1="239.19" y1="171.70" x2="239.19" y2="174.70" stroke="#111" stroke-width="0.9"/>
<line x1="236.59" y1="171.70" x2="241.79" y2="171.70" stroke="#111" stroke-width="0.9"/>
<line x1="236.59" y1="174.70" x2="241.79" y2="174.70" stroke="#111" stroke-width="0.9"/>
<line x1="252.79" y1="165.70" x2="252.79" y2="168.70" stroke="#111" stroke-width="0.9"/>
<line x1="250.19" y1="165.70" x2="255.39" y2="165.70" stroke="#111" stroke-width="0.9"/>
<line x1="250.19" y1="168.70" x2="255.39" y2="168.70" stroke="#111" stroke-width="0.9"/>
<line x1="266.40" y1="150.20" x2="266.40" y2="154.20" stroke="#111" stroke-width="0.9"/>
<line x1="263.80" y1="150.20" x2="269.00" y2="150.20" stroke="#111" stroke-width="0.9"/>
<line x1="263.80" y1="154.20" x2="269.00" y2="154.20" stroke="#111" stroke-width="0.9"/>
<circle cx="221.20" cy="176.20" r="2.10" fill="#111"/>
<circle cx="239.19" cy="173.20" r="2.10" fill="#111"/>
<circle cx="252.79" cy="167.20" r="2.10" fill="#111"/>
<circle cx="266.40" cy="152.20" r="2.10" fill="#111"/>
<path d="M207.59 151.75 L221.20 149.65 L239.19 132.70 L252.79 125.20 L266.40 110.20" fill="none" stroke="#6a45b0" stroke-width="1.3"/>
<line x1="207.59" y1="143.75" x2="207.59" y2="159.75" stroke="#8a6ad0" stroke-width="0.9"/>
<line x1="204.99" y1="143.75" x2="210.19" y2="143.75" stroke="#8a6ad0" stroke-width="0.9"/>
<line x1="204.99" y1="159.75" x2="210.19" y2="159.75" stroke="#8a6ad0" stroke-width="0.9"/>
<line x1="221.20" y1="145.65" x2="221.20" y2="153.65" stroke="#8a6ad0" stroke-width="0.9"/>
<line x1="218.60" y1="145.65" x2="223.80" y2="145.65" stroke="#8a6ad0" stroke-width="0.9"/>
<line x1="218.60" y1="153.65" x2="223.80" y2="153.65" stroke="#8a6ad0" stroke-width="0.9"/>
<line x1="239.19" y1="116.70" x2="239.19" y2="148.70" stroke="#8a6ad0" stroke-width="0.9"/>
<line x1="236.59" y1="116.70" x2="241.79" y2="116.70" stroke="#8a6ad0" stroke-width="0.9"/>
<line x1="236.59" y1="148.70" x2="241.79" y2="148.70" stroke="#8a6ad0" stroke-width="0.9"/>
<line x1="252.79" y1="115.20" x2="252.79" y2="135.20" stroke="#8a6ad0" stroke-width="0.9"/>
<line x1="250.19" y1="115.20" x2="255.39" y2="115.20" stroke="#8a6ad0" stroke-width="0.9"/>
<line x1="250.19" y1="135.20" x2="255.39" y2="135.20" stroke="#8a6ad0" stroke-width="0.9"/>
<line x1="266.40" y1="104.20" x2="266.40" y2="116.20" stroke="#8a6ad0" stroke-width="0.9"/>
<line x1="263.80" y1="104.20" x2="269.00" y2="104.20" stroke="#8a6ad0" stroke-width="0.9"/>
<line x1="263.80" y1="116.20" x2="269.00" y2="116.20" stroke="#8a6ad0" stroke-width="0.9"/>
<circle cx="207.59" cy="151.75" r="2.30" fill="#fff" stroke="#111" stroke-width="0.9"/>
<circle cx="207.59" cy="151.75" r="0.80" fill="#111"/>
<circle cx="221.20" cy="149.65" r="2.30" fill="#fff" stroke="#111" stroke-width="0.9"/>
<circle cx="221.20" cy="149.65" r="0.80" fill="#111"/>
<circle cx="239.19" cy="132.70" r="2.30" fill="#fff" stroke="#111" stroke-width="0.9"/>
<circle cx="239.19" cy="132.70" r="0.80" fill="#111"/>
<circle cx="252.79" cy="125.20" r="2.30" fill="#fff" stroke="#111" stroke-width="0.9"/>
<circle cx="252.79" cy="125.20" r="0.80" fill="#111"/>
<circle cx="266.40" cy="110.20" r="2.30" fill="#fff" stroke="#111" stroke-width="0.9"/>
<circle cx="266.40" cy="110.20" r="0.80" fill="#111"/>
<path d="M207.59 136.00 L221.20 129.25 L239.19 107.95 L252.79 80.20 L266.40 43.90" fill="none" stroke="#d070c0" stroke-width="1.3"/>
<line x1="207.59" y1="132.00" x2="207.59" y2="140.00" stroke="#111" stroke-width="0.9"/>
<line x1="204.99" y1="132.00" x2="210.19" y2="132.00" stroke="#111" stroke-width="0.9"/>
<line x1="204.99" y1="140.00" x2="210.19" y2="140.00" stroke="#111" stroke-width="0.9"/>
<line x1="221.20" y1="126.25" x2="221.20" y2="132.25" stroke="#111" stroke-width="0.9"/>
<line x1="218.60" y1="126.25" x2="223.80" y2="126.25" stroke="#111" stroke-width="0.9"/>
<line x1="218.60" y1="132.25" x2="223.80" y2="132.25" stroke="#111" stroke-width="0.9"/>
<line x1="239.19" y1="104.95" x2="239.19" y2="110.95" stroke="#111" stroke-width="0.9"/>
<line x1="236.59" y1="104.95" x2="241.79" y2="104.95" stroke="#111" stroke-width="0.9"/>
<line x1="236.59" y1="110.95" x2="241.79" y2="110.95" stroke="#111" stroke-width="0.9"/>
<line x1="252.79" y1="76.20" x2="252.79" y2="84.20" stroke="#111" stroke-width="0.9"/>
<line x1="250.19" y1="76.20" x2="255.39" y2="76.20" stroke="#111" stroke-width="0.9"/>
<line x1="250.19" y1="84.20" x2="255.39" y2="84.20" stroke="#111" stroke-width="0.9"/>
<line x1="266.40" y1="40.90" x2="266.40" y2="46.90" stroke="#111" stroke-width="0.9"/>
<line x1="263.80" y1="40.90" x2="269.00" y2="40.90" stroke="#111" stroke-width="0.9"/>
<line x1="263.80" y1="46.90" x2="269.00" y2="46.90" stroke="#111" stroke-width="0.9"/>
<polygon points="207.59,133.35 210.24,136.00 207.59,138.65 204.95,136.00" fill="#fff" stroke="#111" stroke-width="0.9"/>
<polygon points="221.20,126.61 223.85,129.25 221.20,131.90 218.56,129.25" fill="#fff" stroke="#111" stroke-width="0.9"/>
<polygon points="239.19,105.30 241.83,107.95 239.19,110.59 236.54,107.95" fill="#fff" stroke="#111" stroke-width="0.9"/>
<polygon points="252.79,77.55 255.44,80.20 252.79,82.84 250.15,80.20" fill="#fff" stroke="#111" stroke-width="0.9"/>
<polygon points="266.40,41.25 269.04,43.90 266.40,46.54 263.75,43.90" fill="#fff" stroke="#111" stroke-width="0.9"/>
<path d="M193.99 115.00 L207.59 105.40 L221.20 100.90 L239.19 93.70 L252.79 81.70" fill="none" stroke="#999" stroke-width="1.3"/>
<line x1="193.99" y1="110.00" x2="193.99" y2="120.00" stroke="#aaa" stroke-width="0.9"/>
<line x1="191.39" y1="110.00" x2="196.59" y2="110.00" stroke="#aaa" stroke-width="0.9"/>
<line x1="191.39" y1="120.00" x2="196.59" y2="120.00" stroke="#aaa" stroke-width="0.9"/>
<line x1="207.59" y1="90.40" x2="207.59" y2="120.40" stroke="#aaa" stroke-width="0.9"/>
<line x1="204.99" y1="90.40" x2="210.19" y2="90.40" stroke="#aaa" stroke-width="0.9"/>
<line x1="204.99" y1="120.40" x2="210.19" y2="120.40" stroke="#aaa" stroke-width="0.9"/>
<line x1="221.20" y1="93.90" x2="221.20" y2="107.90" stroke="#aaa" stroke-width="0.9"/>
<line x1="218.60" y1="93.90" x2="223.80" y2="93.90" stroke="#aaa" stroke-width="0.9"/>
<line x1="218.60" y1="107.90" x2="223.80" y2="107.90" stroke="#aaa" stroke-width="0.9"/>
<line x1="239.19" y1="88.70" x2="239.19" y2="98.70" stroke="#aaa" stroke-width="0.9"/>
<line x1="236.59" y1="88.70" x2="241.79" y2="88.70" stroke="#aaa" stroke-width="0.9"/>
<line x1="236.59" y1="98.70" x2="241.79" y2="98.70" stroke="#aaa" stroke-width="0.9"/>
<line x1="252.79" y1="78.70" x2="252.79" y2="84.70" stroke="#aaa" stroke-width="0.9"/>
<line x1="250.19" y1="78.70" x2="255.39" y2="78.70" stroke="#aaa" stroke-width="0.9"/>
<line x1="250.19" y1="84.70" x2="255.39" y2="84.70" stroke="#aaa" stroke-width="0.9"/>
<polygon points="193.99,117.76 196.75,112.79 191.23,112.79" fill="#fff" stroke="#111" stroke-width="0.9"/>
<polygon points="207.59,108.16 210.35,103.19 204.83,103.19" fill="#fff" stroke="#111" stroke-width="0.9"/>
<polygon points="221.20,103.66 223.96,98.69 218.44,98.69" fill="#fff" stroke="#111" stroke-width="0.9"/>
<polygon points="239.19,96.46 241.95,91.49 236.43,91.49" fill="#fff" stroke="#111" stroke-width="0.9"/>
<polygon points="252.79,84.46 255.55,79.49 250.03,79.49" fill="#fff" stroke="#111" stroke-width="0.9"/>
<path d="M162.39 133.60 L176.00 117.55 L193.99 94.15 L207.59 82.30 L221.20 73.45" fill="none" stroke="#111" stroke-width="1.3"/>
<line x1="162.39" y1="130.60" x2="162.39" y2="136.60" stroke="#111" stroke-width="0.9"/>
<line x1="159.79" y1="130.60" x2="164.99" y2="130.60" stroke="#111" stroke-width="0.9"/>
<line x1="159.79" y1="136.60" x2="164.99" y2="136.60" stroke="#111" stroke-width="0.9"/>
<line x1="176.00" y1="115.55" x2="176.00" y2="119.55" stroke="#111" stroke-width="0.9"/>
<line x1="173.40" y1="115.55" x2="178.60" y2="115.55" stroke="#111" stroke-width="0.9"/>
<line x1="173.40" y1="119.55" x2="178.60" y2="119.55" stroke="#111" stroke-width="0.9"/>
<line x1="193.99" y1="87.15" x2="193.99" y2="101.15" stroke="#111" stroke-width="0.9"/>
<line x1="191.39" y1="87.15" x2="196.59" y2="87.15" stroke="#111" stroke-width="0.9"/>
<line x1="191.39" y1="101.15" x2="196.59" y2="101.15" stroke="#111" stroke-width="0.9"/>
<line x1="207.59" y1="72.30" x2="207.59" y2="92.30" stroke="#111" stroke-width="0.9"/>
<line x1="204.99" y1="72.30" x2="210.19" y2="72.30" stroke="#111" stroke-width="0.9"/>
<line x1="204.99" y1="92.30" x2="210.19" y2="92.30" stroke="#111" stroke-width="0.9"/>
<line x1="221.20" y1="60.45" x2="221.20" y2="86.45" stroke="#111" stroke-width="0.9"/>
<line x1="218.60" y1="60.45" x2="223.80" y2="60.45" stroke="#111" stroke-width="0.9"/>
<line x1="218.60" y1="86.45" x2="223.80" y2="86.45" stroke="#111" stroke-width="0.9"/>
<polygon points="162.39,130.84 165.15,135.81 159.63,135.81" fill="#fff" stroke="#111" stroke-width="0.9"/>
<polygon points="176.00,114.79 178.76,119.76 173.24,119.76" fill="#fff" stroke="#111" stroke-width="0.9"/>
<polygon points="193.99,91.39 196.75,96.36 191.23,96.36" fill="#fff" stroke="#111" stroke-width="0.9"/>
<polygon points="207.59,79.54 210.35,84.51 204.83,84.51" fill="#fff" stroke="#111" stroke-width="0.9"/>
<polygon points="221.20,70.69 223.96,75.66 218.44,75.66" fill="#fff" stroke="#111" stroke-width="0.9"/>
<path d="M148.79 122.50 L162.39 109.15 L176.00 94.60 L193.99 81.70 L207.59 72.25" fill="none" stroke="#a01e1e" stroke-width="1.3"/>
<line x1="148.79" y1="120.50" x2="148.79" y2="124.50" stroke="#a01e1e" stroke-width="0.9"/>
<line x1="146.19" y1="120.50" x2="151.39" y2="120.50" stroke="#a01e1e" stroke-width="0.9"/>
<line x1="146.19" y1="124.50" x2="151.39" y2="124.50" stroke="#a01e1e" stroke-width="0.9"/>
<line x1="162.39" y1="106.15" x2="162.39" y2="112.15" stroke="#a01e1e" stroke-width="0.9"/>
<line x1="159.79" y1="106.15" x2="164.99" y2="106.15" stroke="#a01e1e" stroke-width="0.9"/>
<line x1="159.79" y1="112.15" x2="164.99" y2="112.15" stroke="#a01e1e" stroke-width="0.9"/>
<line x1="176.00" y1="89.60" x2="176.00" y2="99.60" stroke="#a01e1e" stroke-width="0.9"/>
<line x1="173.40" y1="89.60" x2="178.60" y2="89.60" stroke="#a01e1e" stroke-width="0.9"/>
<line x1="173.40" y1="99.60" x2="178.60" y2="99.60" stroke="#a01e1e" stroke-width="0.9"/>
<line x1="193.99" y1="76.70" x2="193.99" y2="86.70" stroke="#a01e1e" stroke-width="0.9"/>
<line x1="191.39" y1="76.70" x2="196.59" y2="76.70" stroke="#a01e1e" stroke-width="0.9"/>
<line x1="191.39" y1="86.70" x2="196.59" y2="86.70" stroke="#a01e1e" stroke-width="0.9"/>
<line x1="207.59" y1="69.25" x2="207.59" y2="75.25" stroke="#a01e1e" stroke-width="0.9"/>
<line x1="204.99" y1="69.25" x2="210.19" y2="69.25" stroke="#a01e1e" stroke-width="0.9"/>
<line x1="204.99" y1="75.25" x2="210.19" y2="75.25" stroke="#a01e1e" stroke-width="0.9"/>
<rect x="146.59" y="120.30" width="4.40" height="4.40" fill="#fff" stroke="#222" stroke-width="0.9"/>
<rect x="160.19" y="106.95" width="4.40" height="4.40" fill="#fff" stroke="#222" stroke-width="0.9"/>
<rect x="173.80" y="92.40" width="4.40" height="4.40" fill="#fff" stroke="#222" stroke-width="0.9"/>
<rect x="191.79" y="79.50" width="4.40" height="4.40" fill="#fff" stroke="#222" stroke-width="0.9"/>
<rect x="205.39" y="70.05" width="4.40" height="4.40" fill="#fff" stroke="#222" stroke-width="0.9"/>
<path d="M130.80 160.75 L148.79 131.80 L162.39 107.95 L176.00 70.30 L193.99 50.20" fill="none" stroke="#7a55c0" stroke-width="1.3"/>
<line x1="130.80" y1="158.75" x2="130.80" y2="162.75" stroke="#7a55c0" stroke-width="0.9"/>
<line x1="128.20" y1="158.75" x2="133.40" y2="158.75" stroke="#7a55c0" stroke-width="0.9"/>
<line x1="128.20" y1="162.75" x2="133.40" y2="162.75" stroke="#7a55c0" stroke-width="0.9"/>
<line x1="148.79" y1="126.80" x2="148.79" y2="136.80" stroke="#7a55c0" stroke-width="0.9"/>
<line x1="146.19" y1="126.80" x2="151.39" y2="126.80" stroke="#7a55c0" stroke-width="0.9"/>
<line x1="146.19" y1="136.80" x2="151.39" y2="136.80" stroke="#7a55c0" stroke-width="0.9"/>
<line x1="162.39" y1="97.95" x2="162.39" y2="117.95" stroke="#7a55c0" stroke-width="0.9"/>
<line x1="159.79" y1="97.95" x2="164.99" y2="97.95" stroke="#7a55c0" stroke-width="0.9"/>
<line x1="159.79" y1="117.95" x2="164.99" y2="117.95" stroke="#7a55c0" stroke-width="0.9"/>
<line x1="176.00" y1="67.30" x2="176.00" y2="73.30" stroke="#7a55c0" stroke-width="0.9"/>
<line x1="173.40" y1="67.30" x2="178.60" y2="67.30" stroke="#7a55c0" stroke-width="0.9"/>
<line x1="173.40" y1="73.30" x2="178.60" y2="73.30" stroke="#7a55c0" stroke-width="0.9"/>
<line x1="193.99" y1="49.20" x2="193.99" y2="51.20" stroke="#7a55c0" stroke-width="0.9"/>
<line x1="191.39" y1="49.20" x2="196.59" y2="49.20" stroke="#7a55c0" stroke-width="0.9"/>
<line x1="191.39" y1="51.20" x2="196.59" y2="51.20" stroke="#7a55c0" stroke-width="0.9"/>
<circle cx="130.80" cy="160.75" r="2.30" fill="#2a2a55"/>
<circle cx="148.79" cy="131.80" r="2.30" fill="#2a2a55"/>
<circle cx="162.39" cy="107.95" r="2.30" fill="#2a2a55"/>
<circle cx="176.00" cy="70.30" r="2.30" fill="#2a2a55"/>
<circle cx="193.99" cy="50.20" r="2.30" fill="#2a2a55"/>
<path d="M130.80 165.25 L148.79 138.10 L162.39 110.05 L176.00 79.75 L193.99 49.60" fill="none" stroke="#4a55b5" stroke-width="1.3"/>
<line x1="130.80" y1="163.25" x2="130.80" y2="167.25" stroke="#4a55b5" stroke-width="0.9"/>
<line x1="128.20" y1="163.25" x2="133.40" y2="163.25" stroke="#4a55b5" stroke-width="0.9"/>
<line x1="128.20" y1="167.25" x2="133.40" y2="167.25" stroke="#4a55b5" stroke-width="0.9"/>
<line x1="148.79" y1="135.10" x2="148.79" y2="141.10" stroke="#4a55b5" stroke-width="0.9"/>
<line x1="146.19" y1="135.10" x2="151.39" y2="135.10" stroke="#4a55b5" stroke-width="0.9"/>
<line x1="146.19" y1="141.10" x2="151.39" y2="141.10" stroke="#4a55b5" stroke-width="0.9"/>
<line x1="162.39" y1="106.05" x2="162.39" y2="114.05" stroke="#4a55b5" stroke-width="0.9"/>
<line x1="159.79" y1="106.05" x2="164.99" y2="106.05" stroke="#4a55b5" stroke-width="0.9"/>
<line x1="159.79" y1="114.05" x2="164.99" y2="114.05" stroke="#4a55b5" stroke-width="0.9"/>
<line x1="176.00" y1="76.75" x2="176.00" y2="82.75" stroke="#4a55b5" stroke-width="0.9"/>
<line x1="173.40" y1="76.75" x2="178.60" y2="76.75" stroke="#4a55b5" stroke-width="0.9"/>
<line x1="173.40" y1="82.75" x2="178.60" y2="82.75" stroke="#4a55b5" stroke-width="0.9"/>
<line x1="193.99" y1="48.60" x2="193.99" y2="50.60" stroke="#4a55b5" stroke-width="0.9"/>
<line x1="191.39" y1="48.60" x2="196.59" y2="48.60" stroke="#4a55b5" stroke-width="0.9"/>
<line x1="191.39" y1="50.60" x2="196.59" y2="50.60" stroke="#4a55b5" stroke-width="0.9"/>
<circle cx="130.80" cy="165.25" r="2.20" fill="#4a55b5"/>
<circle cx="148.79" cy="138.10" r="2.20" fill="#4a55b5"/>
<circle cx="162.39" cy="110.05" r="2.20" fill="#4a55b5"/>
<circle cx="176.00" cy="79.75" r="2.20" fill="#4a55b5"/>
<circle cx="193.99" cy="49.60" r="2.20" fill="#4a55b5"/>
<path d="M130.80 145.60 L148.79 122.50 L162.39 100.45 L176.00 77.20 L193.99 57.25" fill="none" stroke="#3d9a3d" stroke-width="1.3"/>
<line x1="130.80" y1="139.60" x2="130.80" y2="151.60" stroke="#3d9a3d" stroke-width="0.9"/>
<line x1="128.20" y1="139.60" x2="133.40" y2="139.60" stroke="#3d9a3d" stroke-width="0.9"/>
<line x1="128.20" y1="151.60" x2="133.40" y2="151.60" stroke="#3d9a3d" stroke-width="0.9"/>
<line x1="148.79" y1="118.50" x2="148.79" y2="126.50" stroke="#3d9a3d" stroke-width="0.9"/>
<line x1="146.19" y1="118.50" x2="151.39" y2="118.50" stroke="#3d9a3d" stroke-width="0.9"/>
<line x1="146.19" y1="126.50" x2="151.39" y2="126.50" stroke="#3d9a3d" stroke-width="0.9"/>
<line x1="162.39" y1="91.45" x2="162.39" y2="109.45" stroke="#3d9a3d" stroke-width="0.9"/>
<line x1="159.79" y1="91.45" x2="164.99" y2="91.45" stroke="#3d9a3d" stroke-width="0.9"/>
<line x1="159.79" y1="109.45" x2="164.99" y2="109.45" stroke="#3d9a3d" stroke-width="0.9"/>
<line x1="176.00" y1="72.20" x2="176.00" y2="82.20" stroke="#3d9a3d" stroke-width="0.9"/>
<line x1="173.40" y1="72.20" x2="178.60" y2="72.20" stroke="#3d9a3d" stroke-width="0.9"/>
<line x1="173.40" y1="82.20" x2="178.60" y2="82.20" stroke="#3d9a3d" stroke-width="0.9"/>
<line x1="193.99" y1="53.25" x2="193.99" y2="61.25" stroke="#3d9a3d" stroke-width="0.9"/>
<line x1="191.39" y1="53.25" x2="196.59" y2="53.25" stroke="#3d9a3d" stroke-width="0.9"/>
<line x1="191.39" y1="61.25" x2="196.59" y2="61.25" stroke="#3d9a3d" stroke-width="0.9"/>
<polygon points="130.80,148.25 133.45,143.48 128.16,143.48" fill="#3d9a3d"/>
<polygon points="148.79,125.14 151.43,120.38 146.14,120.38" fill="#3d9a3d"/>
<polygon points="162.39,103.09 165.04,98.33 159.75,98.33" fill="#3d9a3d"/>
<polygon points="176.00,79.84 178.65,75.08 173.36,75.08" fill="#3d9a3d"/>
<polygon points="193.99,59.89 196.63,55.13 191.34,55.13" fill="#3d9a3d"/>
<path d="M117.19 149.65 L130.80 126.25 L148.79 100.90 L162.39 78.55 L176.00 62.65" fill="none" stroke="#e89520" stroke-width="1.3"/>
<line x1="117.19" y1="146.65" x2="117.19" y2="152.65" stroke="#e89520" stroke-width="0.9"/>
<line x1="114.59" y1="146.65" x2="119.79" y2="146.65" stroke="#e89520" stroke-width="0.9"/>
<line x1="114.59" y1="152.65" x2="119.79" y2="152.65" stroke="#e89520" stroke-width="0.9"/>
<line x1="130.80" y1="115.25" x2="130.80" y2="137.25" stroke="#e89520" stroke-width="0.9"/>
<line x1="128.20" y1="115.25" x2="133.40" y2="115.25" stroke="#e89520" stroke-width="0.9"/>
<line x1="128.20" y1="137.25" x2="133.40" y2="137.25" stroke="#e89520" stroke-width="0.9"/>
<line x1="148.79" y1="85.90" x2="148.79" y2="115.90" stroke="#e89520" stroke-width="0.9"/>
<line x1="146.19" y1="85.90" x2="151.39" y2="85.90" stroke="#e89520" stroke-width="0.9"/>
<line x1="146.19" y1="115.90" x2="151.39" y2="115.90" stroke="#e89520" stroke-width="0.9"/>
<line x1="162.39" y1="74.55" x2="162.39" y2="82.55" stroke="#e89520" stroke-width="0.9"/>
<line x1="159.79" y1="74.55" x2="164.99" y2="74.55" stroke="#e89520" stroke-width="0.9"/>
<line x1="159.79" y1="82.55" x2="164.99" y2="82.55" stroke="#e89520" stroke-width="0.9"/>
<line x1="176.00" y1="51.65" x2="176.00" y2="73.65" stroke="#e89520" stroke-width="0.9"/>
<line x1="173.40" y1="51.65" x2="178.60" y2="51.65" stroke="#e89520" stroke-width="0.9"/>
<line x1="173.40" y1="73.65" x2="178.60" y2="73.65" stroke="#e89520" stroke-width="0.9"/>
<polygon points="117.19,147.00 119.84,151.77 114.55,151.77" fill="#e89520"/>
<polygon points="130.80,123.61 133.45,128.37 128.16,128.37" fill="#e89520"/>
<polygon points="148.79,98.25 151.43,103.02 146.14,103.02" fill="#e89520"/>
<polygon points="162.39,75.91 165.04,80.67 159.75,80.67" fill="#e89520"/>
<polygon points="176.00,60.00 178.65,64.77 173.36,64.77" fill="#e89520"/>
<path d="M103.59 141.25 L117.19 117.85 L130.80 95.95 L148.79 76.75 L162.39 69.70" fill="none" stroke="#d2231e" stroke-width="1.3"/>
<line x1="117.19" y1="112.85" x2="117.19" y2="122.85" stroke="#d2231e" stroke-width="0.9"/>
<line x1="114.59" y1="112.85" x2="119.79" y2="112.85" stroke="#d2231e" stroke-width="0.9"/>
<line x1="114.59" y1="122.85" x2="119.79" y2="122.85" stroke="#d2231e" stroke-width="0.9"/>
<line x1="130.80" y1="92.45" x2="130.80" y2="99.45" stroke="#d2231e" stroke-width="0.9"/>
<line x1="128.20" y1="92.45" x2="133.40" y2="92.45" stroke="#d2231e" stroke-width="0.9"/>
<line x1="128.20" y1="99.45" x2="133.40" y2="99.45" stroke="#d2231e" stroke-width="0.9"/>
<line x1="162.39" y1="66.70" x2="162.39" y2="72.70" stroke="#d2231e" stroke-width="0.9"/>
<line x1="159.79" y1="66.70" x2="164.99" y2="66.70" stroke="#d2231e" stroke-width="0.9"/>
<line x1="159.79" y1="72.70" x2="164.99" y2="72.70" stroke="#d2231e" stroke-width="0.9"/>
<rect x="101.39" y="139.05" width="4.40" height="4.40" fill="#d2231e"/>
<rect x="114.99" y="115.65" width="4.40" height="4.40" fill="#d2231e"/>
<rect x="128.60" y="93.75" width="4.40" height="4.40" fill="#d2231e"/>
<rect x="146.59" y="74.55" width="4.40" height="4.40" fill="#d2231e"/>
<rect x="160.19" y="67.50" width="4.40" height="4.40" fill="#d2231e"/>
<path d="M71.99 172.30 L85.60 162.70 L103.59 122.20 L117.19 91.30 L130.80 58.15" fill="none" stroke="#dc8cc8" stroke-width="1.3"/>
<line x1="103.59" y1="110.70" x2="103.59" y2="133.70" stroke="#dc8cc8" stroke-width="0.9"/>
<line x1="100.99" y1="110.70" x2="106.19" y2="110.70" stroke="#dc8cc8" stroke-width="0.9"/>
<line x1="100.99" y1="133.70" x2="106.19" y2="133.70" stroke="#dc8cc8" stroke-width="0.9"/>
<line x1="117.19" y1="86.90" x2="117.19" y2="95.70" stroke="#dc8cc8" stroke-width="0.9"/>
<line x1="114.59" y1="86.90" x2="119.79" y2="86.90" stroke="#dc8cc8" stroke-width="0.9"/>
<line x1="114.59" y1="95.70" x2="119.79" y2="95.70" stroke="#dc8cc8" stroke-width="0.9"/>
<circle cx="71.99" cy="172.30" r="2.40" fill="#dc8cc8"/>
<circle cx="85.60" cy="162.70" r="2.40" fill="#dc8cc8"/>
<circle cx="103.59" cy="122.20" r="2.40" fill="#dc8cc8"/>
<circle cx="117.19" cy="91.30" r="2.40" fill="#dc8cc8"/>
<circle cx="130.80" cy="58.15" r="2.40" fill="#dc8cc8"/>
<rect x="334.00" y="8.80" width="68.30" height="11.00" fill="#ababab"/>
<rect x="404.00" y="8.80" width="35.30" height="11.00" fill="#ababab"/>
<rect x="440.80" y="8.80" width="55.20" height="11.00" fill="#ababab"/>
<text x="421.65" y="16.40" font-size="7.6" text-anchor="middle" fill="#ececec" textLength="31.08" lengthAdjust="spacingAndGlyphs" stroke="#ececec" stroke-width="0.1">IC50 (nM)</text>
<text x="468.70" y="16.40" font-size="7.6" text-anchor="middle" fill="#ececec" textLength="15.24" lengthAdjust="spacingAndGlyphs" stroke="#ececec" stroke-width="0.1">CTG</text>
<rect x="334.00" y="21.10" width="68.30" height="11.30" fill="#e6e6e6"/>
<rect x="404.00" y="21.10" width="35.30" height="11.30" fill="#e6e6e6"/>
<rect x="440.80" y="21.10" width="55.20" height="11.30" fill="#e6e6e6"/>
<line x1="338.90" y1="26.85" x2="348.80" y2="26.85" stroke="#e08cc8" stroke-width="1.4"/>
<circle cx="343.90" cy="26.85" r="1.75" fill="#e08cc8"/>
<text x="354.60" y="29.55" font-size="7.6" text-anchor="start" fill="#1a1a1a" textLength="25.13" lengthAdjust="spacingAndGlyphs" stroke="#1a1a1a" stroke-width="0.12">SKMM2</text>
<text x="421.95" y="29.55" font-size="7.6" text-anchor="middle" fill="#1a1a1a" textLength="9.82" lengthAdjust="spacingAndGlyphs" stroke="#1a1a1a" stroke-width="0.12">3.7</text>
<text x="468.90" y="29.55" font-size="7.6" text-anchor="middle" fill="#d03030" textLength="23.83" lengthAdjust="spacingAndGlyphs" stroke="#d03030" stroke-width="0.1">t(11;14)</text>
<rect x="334.00" y="33.68" width="68.30" height="11.30" fill="#f3f3f3"/>
<rect x="404.00" y="33.68" width="35.30" height="11.30" fill="#f3f3f3"/>
<rect x="440.80" y="33.68" width="55.20" height="11.30" fill="#f3f3f3"/>
<line x1="338.90" y1="39.43" x2="348.80" y2="39.43" stroke="#d2231e" stroke-width="1.4"/>
<circle cx="343.90" cy="39.43" r="1.75" fill="#c01010"/>
<text x="354.60" y="42.13" font-size="7.6" text-anchor="start" fill="#1a1a1a" textLength="23.18" lengthAdjust="spacingAndGlyphs" stroke="#1a1a1a" stroke-width="0.12">KMS27</text>
<text x="421.95" y="42.13" font-size="7.6" text-anchor="middle" fill="#1a1a1a" textLength="9.82" lengthAdjust="spacingAndGlyphs" stroke="#1a1a1a" stroke-width="0.12">8.8</text>
<text x="468.90" y="42.13" font-size="7.6" text-anchor="middle" fill="#d03030" textLength="23.83" lengthAdjust="spacingAndGlyphs" stroke="#d03030" stroke-width="0.1">t(11;14)</text>
<rect x="334.00" y="46.26" width="68.30" height="11.30" fill="#e6e6e6"/>
<rect x="404.00" y="46.26" width="35.30" height="11.30" fill="#e6e6e6"/>
<rect x="440.80" y="46.26" width="55.20" height="11.30" fill="#e6e6e6"/>
<line x1="338.90" y1="52.01" x2="348.80" y2="52.01" stroke="#e89520" stroke-width="1.4"/>
<polygon points="343.90,50.00 345.91,53.62 341.89,53.62" fill="#e89520"/>
<text x="354.60" y="54.71" font-size="7.6" text-anchor="start" fill="#1a1a1a" textLength="32.61" lengthAdjust="spacingAndGlyphs" stroke="#1a1a1a" stroke-width="0.12">KMS12PE</text>
<text x="421.95" y="54.71" font-size="7.6" text-anchor="middle" fill="#1a1a1a" textLength="13.75" lengthAdjust="spacingAndGlyphs" stroke="#1a1a1a" stroke-width="0.12">22.0</text>
<text x="468.90" y="54.71" font-size="7.6" text-anchor="middle" fill="#d03030" textLength="23.83" lengthAdjust="spacingAndGlyphs" stroke="#d03030" stroke-width="0.1">t(11;14)</text>
<rect x="334.00" y="58.84" width="68.30" height="11.30" fill="#f3f3f3"/>
<rect x="404.00" y="58.84" width="35.30" height="11.30" fill="#f3f3f3"/>
<rect x="440.80" y="58.84" width="55.20" height="11.30" fill="#f3f3f3"/>
<line x1="338.90" y1="64.59" x2="348.80" y2="64.59" stroke="#3d9a3d" stroke-width="1.4"/>
<polygon points="343.90,66.60 345.91,62.98 341.89,62.98" fill="#2d8a2d"/>
<text x="354.60" y="67.29" font-size="7.6" text-anchor="start" fill="#1a1a1a" textLength="41.91" lengthAdjust="spacingAndGlyphs" stroke="#1a1a1a" stroke-width="0.12">KARPAS 620</text>
<text x="421.95" y="67.29" font-size="7.6" text-anchor="middle" fill="#1a1a1a" textLength="13.75" lengthAdjust="spacingAndGlyphs" stroke="#1a1a1a" stroke-width="0.12">43.5</text>
<text x="468.90" y="67.29" font-size="7.6" text-anchor="middle" fill="#d03030" textLength="23.83" lengthAdjust="spacingAndGlyphs" stroke="#d03030" stroke-width="0.1">t(11;14)</text>
<rect x="334.00" y="71.42" width="68.30" height="11.30" fill="#e6e6e6"/>
<rect x="404.00" y="71.42" width="35.30" height="11.30" fill="#e6e6e6"/>
<rect x="440.80" y="71.42" width="55.20" height="11.30" fill="#e6e6e6"/>
<line x1="338.90" y1="77.17" x2="348.80" y2="77.17" stroke="#4a55b5" stroke-width="1.4"/>
<circle cx="343.90" cy="77.17" r="1.75" fill="#4a55b5"/>
<text x="354.60" y="79.87" font-size="7.6" text-anchor="start" fill="#1a1a1a" textLength="27.10" lengthAdjust="spacingAndGlyphs" stroke="#1a1a1a" stroke-width="0.12">OCIMY5</text>
<text x="421.95" y="79.87" font-size="7.6" text-anchor="middle" fill="#1a1a1a" textLength="13.75" lengthAdjust="spacingAndGlyphs" stroke="#1a1a1a" stroke-width="0.12">57.2</text>
<text x="468.90" y="79.87" font-size="7.6" text-anchor="middle" fill="#1a1a1a" textLength="24.36" lengthAdjust="spacingAndGlyphs" stroke="#1a1a1a" stroke-width="0.1">t(14;16)</text>
<rect x="334.00" y="84.00" width="68.30" height="11.30" fill="#f3f3f3"/>
<rect x="404.00" y="84.00" width="35.30" height="11.30" fill="#f3f3f3"/>
<rect x="440.80" y="84.00" width="55.20" height="11.30" fill="#f3f3f3"/>
<line x1="338.90" y1="89.75" x2="348.80" y2="89.75" stroke="#8a60c8" stroke-width="1.4"/>
<circle cx="343.90" cy="89.75" r="1.75" fill="#222244"/>
<text x="354.60" y="92.45" font-size="7.6" text-anchor="start" fill="#1a1a1a" textLength="19.78" lengthAdjust="spacingAndGlyphs" stroke="#1a1a1a" stroke-width="0.12">H1112</text>
<text x="421.95" y="92.45" font-size="7.6" text-anchor="middle" fill="#1a1a1a" textLength="13.75" lengthAdjust="spacingAndGlyphs" stroke="#1a1a1a" stroke-width="0.12">49.4</text>
<text x="468.90" y="92.45" font-size="7.6" text-anchor="middle" fill="#d03030" textLength="23.83" lengthAdjust="spacingAndGlyphs" stroke="#d03030" stroke-width="0.1">t(11;14)</text>
<rect x="334.00" y="96.58" width="68.30" height="11.30" fill="#e6e6e6"/>
<rect x="404.00" y="96.58" width="35.30" height="11.30" fill="#e6e6e6"/>
<rect x="440.80" y="96.58" width="55.20" height="11.30" fill="#e6e6e6"/>
<line x1="338.90" y1="102.33" x2="348.80" y2="102.33" stroke="#a01e1e" stroke-width="1.4"/>
<rect x="342.15" y="100.58" width="3.50" height="3.50" fill="#222"/>
<text x="354.60" y="105.03" font-size="7.6" text-anchor="start" fill="#1a1a1a" textLength="19.64" lengthAdjust="spacingAndGlyphs" stroke="#1a1a1a" stroke-width="0.12">PCM6</text>
<text x="421.95" y="105.03" font-size="7.6" text-anchor="middle" fill="#1a1a1a" textLength="13.75" lengthAdjust="spacingAndGlyphs" stroke="#1a1a1a" stroke-width="0.12">65.6</text>
<text x="468.90" y="105.03" font-size="7.6" text-anchor="middle" fill="#1a1a1a" textLength="24.36" lengthAdjust="spacingAndGlyphs" stroke="#1a1a1a" stroke-width="0.1">t(14;16)</text>
<rect x="334.00" y="109.16" width="68.30" height="11.30" fill="#f3f3f3"/>
<rect x="404.00" y="109.16" width="35.30" height="11.30" fill="#f3f3f3"/>
<rect x="440.80" y="109.16" width="55.20" height="11.30" fill="#f3f3f3"/>
<line x1="338.90" y1="114.91" x2="348.80" y2="114.91" stroke="#111" stroke-width="1.4"/>
<polygon points="343.90,112.90 345.91,116.52 341.89,116.52" fill="#111"/>
<text x="354.60" y="117.61" font-size="7.6" text-anchor="start" fill="#1a1a1a" textLength="33.78" lengthAdjust="spacingAndGlyphs" stroke="#1a1a1a" stroke-width="0.12">KMS12BM</text>
<text x="421.95" y="117.61" font-size="7.6" text-anchor="middle" fill="#1a1a1a" textLength="11.79" lengthAdjust="spacingAndGlyphs" stroke="#1a1a1a" stroke-width="0.12">178</text>
<text x="468.90" y="117.61" font-size="7.6" text-anchor="middle" fill="#d03030" textLength="23.83" lengthAdjust="spacingAndGlyphs" stroke="#d03030" stroke-width="0.1">t(11;14)</text>
<rect x="334.00" y="121.74" width="68.30" height="11.30" fill="#e6e6e6"/>
<rect x="404.00" y="121.74" width="35.30" height="11.30" fill="#e6e6e6"/>
<rect x="440.80" y="121.74" width="55.20" height="11.30" fill="#e6e6e6"/>
<line x1="338.90" y1="127.49" x2="348.80" y2="127.49" stroke="#aaa" stroke-width="1.4"/>
<polygon points="343.90,129.50 345.91,125.88 341.89,125.88" fill="#222"/>
<text x="354.60" y="130.19" font-size="7.6" text-anchor="start" fill="#1a1a1a" textLength="23.18" lengthAdjust="spacingAndGlyphs" stroke="#1a1a1a" stroke-width="0.12">KMS28</text>
<text x="421.95" y="130.19" font-size="7.6" text-anchor="middle" fill="#1a1a1a" textLength="11.79" lengthAdjust="spacingAndGlyphs" stroke="#1a1a1a" stroke-width="0.12">682</text>
<text x="468.90" y="130.19" font-size="7.6" text-anchor="middle" fill="#1a1a1a" textLength="20.43" lengthAdjust="spacingAndGlyphs" stroke="#1a1a1a" stroke-width="0.1">t(4;14)</text>
<rect x="334.00" y="134.32" width="68.30" height="11.30" fill="#f3f3f3"/>
<rect x="404.00" y="134.32" width="35.30" height="11.30" fill="#f3f3f3"/>
<rect x="440.80" y="134.32" width="55.20" height="11.30" fill="#f3f3f3"/>
<line x1="338.90" y1="140.07" x2="348.80" y2="140.07" stroke="#d070c0" stroke-width="1.4"/>
<circle cx="343.90" cy="140.07" r="1.75" fill="#222"/>
<text x="354.60" y="142.77" font-size="7.6" text-anchor="start" fill="#1a1a1a" textLength="20.02" lengthAdjust="spacingAndGlyphs" stroke="#1a1a1a" stroke-width="0.12">JMW1</text>
<text x="421.95" y="142.77" font-size="7.6" text-anchor="middle" fill="#1a1a1a" textLength="15.72" lengthAdjust="spacingAndGlyphs" stroke="#1a1a1a" stroke-width="0.12">2018</text>
<text x="468.90" y="142.77" font-size="7.6" text-anchor="middle" fill="#1a1a1a" textLength="20.43" lengthAdjust="spacingAndGlyphs" stroke="#1a1a1a" stroke-width="0.1">t(4;14)</text>
<rect x="334.00" y="146.90" width="68.30" height="11.30" fill="#e6e6e6"/>
<rect x="404.00" y="146.90" width="35.30" height="11.30" fill="#e6e6e6"/>
<rect x="440.80" y="146.90" width="55.20" height="11.30" fill="#e6e6e6"/>
<line x1="338.90" y1="152.65" x2="348.80" y2="152.65" stroke="#e05030" stroke-width="1.4"/>
<circle cx="343.90" cy="152.65" r="1.75" fill="#111"/>
<text x="354.60" y="155.35" font-size="7.6" text-anchor="start" fill="#1a1a1a" textLength="23.18" lengthAdjust="spacingAndGlyphs" stroke="#1a1a1a" stroke-width="0.12">KMS18</text>
<text x="421.95" y="155.35" font-size="7.6" text-anchor="middle" fill="#1a1a1a" textLength="15.72" lengthAdjust="spacingAndGlyphs" stroke="#1a1a1a" stroke-width="0.12">5891</text>
<text x="468.90" y="155.35" font-size="7.6" text-anchor="middle" fill="#1a1a1a" textLength="20.43" lengthAdjust="spacingAndGlyphs" stroke="#1a1a1a" stroke-width="0.1">t(4;14)</text>
<rect x="334.00" y="159.48" width="68.30" height="11.30" fill="#f3f3f3"/>
<rect x="404.00" y="159.48" width="35.30" height="11.30" fill="#f3f3f3"/>
<rect x="440.80" y="159.48" width="55.20" height="11.30" fill="#f3f3f3"/>
<line x1="338.90" y1="165.23" x2="348.80" y2="165.23" stroke="#f0a020" stroke-width="1.4"/>
<circle cx="343.90" cy="165.23" r="1.75" fill="#f0a020"/>
<text x="354.60" y="167.93" font-size="7.6" text-anchor="start" fill="#1a1a1a" textLength="15.72" lengthAdjust="spacingAndGlyphs" stroke="#1a1a1a" stroke-width="0.12">8226</text>
<text x="421.95" y="167.93" font-size="7.6" text-anchor="middle" fill="#1a1a1a" textLength="15.72" lengthAdjust="spacingAndGlyphs" stroke="#1a1a1a" stroke-width="0.12">6804</text>
<text x="468.90" y="167.93" font-size="7.6" text-anchor="middle" fill="#1a1a1a" textLength="24.36" lengthAdjust="spacingAndGlyphs" stroke="#1a1a1a" stroke-width="0.1">t(16;22)</text>
<rect x="334.00" y="172.06" width="68.30" height="11.30" fill="#e6e6e6"/>
<rect x="404.00" y="172.06" width="35.30" height="11.30" fill="#e6e6e6"/>
<rect x="440.80" y="172.06" width="55.20" height="11.30" fill="#e6e6e6"/>
<line x1="338.90" y1="177.81" x2="348.80" y2="177.81" stroke="#a8c830" stroke-width="1.4"/>
<circle cx="343.90" cy="177.81" r="1.75" fill="#111"/>
<text x="354.60" y="180.51" font-size="7.6" text-anchor="start" fill="#1a1a1a" textLength="23.04" lengthAdjust="spacingAndGlyphs" stroke="#1a1a1a" stroke-width="0.12">KHM11</text>
<text x="421.95" y="180.51" font-size="7.6" text-anchor="middle" fill="#1a1a1a" textLength="15.72" lengthAdjust="spacingAndGlyphs" stroke="#1a1a1a" stroke-width="0.12">9189</text>
<text x="468.90" y="180.51" font-size="7.6" text-anchor="middle" fill="#1a1a1a" textLength="20.43" lengthAdjust="spacingAndGlyphs" stroke="#1a1a1a" stroke-width="0.1">t(4;14)</text>
<rect x="334.00" y="184.64" width="68.30" height="11.30" fill="#f3f3f3"/>
<rect x="404.00" y="184.64" width="35.30" height="11.30" fill="#f3f3f3"/>
<rect x="440.80" y="184.64" width="55.20" height="11.30" fill="#f3f3f3"/>
<line x1="338.90" y1="190.39" x2="348.80" y2="190.39" stroke="#40a040" stroke-width="1.4"/>
<circle cx="343.90" cy="190.39" r="1.75" fill="#111"/>
<text x="354.60" y="193.09" font-size="7.6" text-anchor="start" fill="#1a1a1a" textLength="15.72" lengthAdjust="spacingAndGlyphs" stroke="#1a1a1a" stroke-width="0.12">L363</text>
<text x="421.95" y="193.09" font-size="7.6" text-anchor="middle" fill="#1a1a1a" textLength="15.72" lengthAdjust="spacingAndGlyphs" stroke="#1a1a1a" stroke-width="0.12">9278</text>
<text x="468.90" y="193.09" font-size="7.6" text-anchor="middle" fill="#1a1a1a" textLength="24.36" lengthAdjust="spacingAndGlyphs" stroke="#1a1a1a" stroke-width="0.1">t(17;22)</text>
<rect x="334.00" y="197.22" width="68.30" height="11.30" fill="#e6e6e6"/>
<rect x="404.00" y="197.22" width="35.30" height="11.30" fill="#e6e6e6"/>
<rect x="440.80" y="197.22" width="55.20" height="11.30" fill="#e6e6e6"/>
<line x1="338.90" y1="202.97" x2="348.80" y2="202.97" stroke="#80c8e8" stroke-width="1.4"/>
<circle cx="343.90" cy="202.97" r="1.75" fill="#111"/>
<text x="354.60" y="205.67" font-size="7.6" text-anchor="start" fill="#1a1a1a" textLength="15.32" lengthAdjust="spacingAndGlyphs" stroke="#1a1a1a" stroke-width="0.12">JIM1</text>
<text x="421.95" y="205.67" font-size="7.6" text-anchor="middle" fill="#1a1a1a" textLength="23.78" lengthAdjust="spacingAndGlyphs" stroke="#1a1a1a" stroke-width="0.12">&gt;10000</text>
<text x="468.90" y="205.67" font-size="7.6" text-anchor="middle" fill="#1a1a1a" textLength="20.43" lengthAdjust="spacingAndGlyphs" stroke="#1a1a1a" stroke-width="0.1">t(4;14)</text>
<rect x="334.00" y="209.80" width="68.30" height="11.30" fill="#f3f3f3"/>
<rect x="404.00" y="209.80" width="35.30" height="11.30" fill="#f3f3f3"/>
<rect x="440.80" y="209.80" width="55.20" height="11.30" fill="#f3f3f3"/>
<line x1="338.90" y1="215.55" x2="348.80" y2="215.55" stroke="#5060c0" stroke-width="1.4"/>
<rect x="342.15" y="213.80" width="3.50" height="3.50" fill="#111"/>
<text x="354.60" y="218.25" font-size="7.6" text-anchor="start" fill="#1a1a1a" textLength="41.91" lengthAdjust="spacingAndGlyphs" stroke="#1a1a1a" stroke-width="0.12">KARPAS 417</text>
<text x="421.95" y="218.25" font-size="7.6" text-anchor="middle" fill="#1a1a1a" textLength="23.78" lengthAdjust="spacingAndGlyphs" stroke="#1a1a1a" stroke-width="0.12">&gt;10000</text>
<rect x="334.00" y="222.38" width="68.30" height="11.30" fill="#e6e6e6"/>
<rect x="404.00" y="222.38" width="35.30" height="11.30" fill="#e6e6e6"/>
<rect x="440.80" y="222.38" width="55.20" height="11.30" fill="#e6e6e6"/>
<line x1="338.90" y1="228.13" x2="348.80" y2="228.13" stroke="#8050c0" stroke-width="1.4"/>
<circle cx="343.90" cy="228.13" r="1.75" fill="#111"/>
<text x="354.60" y="230.83" font-size="7.6" text-anchor="start" fill="#1a1a1a" textLength="22.65" lengthAdjust="spacingAndGlyphs" stroke="#1a1a1a" stroke-width="0.12">KMS11</text>
<text x="421.95" y="230.83" font-size="7.6" text-anchor="middle" fill="#1a1a1a" textLength="23.78" lengthAdjust="spacingAndGlyphs" stroke="#1a1a1a" stroke-width="0.12">&gt;10000</text>
<text x="468.90" y="230.83" font-size="7.6" text-anchor="middle" fill="#1a1a1a" textLength="47.33" lengthAdjust="spacingAndGlyphs" stroke="#1a1a1a" stroke-width="0.1">t(4;14)+t(14;16)</text>
<rect x="334.00" y="234.96" width="68.30" height="11.30" fill="#f3f3f3"/>
<rect x="404.00" y="234.96" width="35.30" height="11.30" fill="#f3f3f3"/>
<rect x="440.80" y="234.96" width="55.20" height="11.30" fill="#f3f3f3"/>
<line x1="338.90" y1="240.71" x2="348.80" y2="240.71" stroke="#40a0a0" stroke-width="1.4"/>
<rect x="342.15" y="238.96" width="3.50" height="3.50" fill="#111"/>
<text x="354.60" y="243.41" font-size="7.6" text-anchor="start" fill="#1a1a1a" textLength="23.18" lengthAdjust="spacingAndGlyphs" stroke="#1a1a1a" stroke-width="0.12">KMS20</text>
<text x="421.95" y="243.41" font-size="7.6" text-anchor="middle" fill="#1a1a1a" textLength="23.78" lengthAdjust="spacingAndGlyphs" stroke="#1a1a1a" stroke-width="0.12">&gt;10000</text>
<rect x="334.00" y="247.54" width="68.30" height="11.30" fill="#e6e6e6"/>
<rect x="404.00" y="247.54" width="35.30" height="11.30" fill="#e6e6e6"/>
<rect x="440.80" y="247.54" width="55.20" height="11.30" fill="#e6e6e6"/>
<line x1="338.90" y1="253.29" x2="348.80" y2="253.29" stroke="#b01e1e" stroke-width="1.4"/>
<circle cx="343.90" cy="253.29" r="1.75" fill="#111"/>
<text x="354.60" y="255.99" font-size="7.6" text-anchor="start" fill="#1a1a1a" textLength="33.78" lengthAdjust="spacingAndGlyphs" stroke="#1a1a1a" stroke-width="0.12">KMS21BM</text>
<text x="421.95" y="255.99" font-size="7.6" text-anchor="middle" fill="#1a1a1a" textLength="23.78" lengthAdjust="spacingAndGlyphs" stroke="#1a1a1a" stroke-width="0.12">&gt;10000</text>
<text x="468.90" y="255.99" font-size="7.6" text-anchor="middle" fill="#d03030" textLength="23.83" lengthAdjust="spacingAndGlyphs" stroke="#d03030" stroke-width="0.1">t(11;14)</text>
<rect x="334.00" y="260.12" width="68.30" height="11.30" fill="#f3f3f3"/>
<rect x="404.00" y="260.12" width="35.30" height="11.30" fill="#f3f3f3"/>
<rect x="440.80" y="260.12" width="55.20" height="11.30" fill="#f3f3f3"/>
<line x1="338.90" y1="265.87" x2="348.80" y2="265.87" stroke="#b8b040" stroke-width="1.4"/>
<circle cx="343.90" cy="265.87" r="1.75" fill="#111"/>
<text x="354.60" y="268.57" font-size="7.6" text-anchor="start" fill="#1a1a1a" textLength="23.18" lengthAdjust="spacingAndGlyphs" stroke="#1a1a1a" stroke-width="0.12">KMS26</text>
<text x="421.95" y="268.57" font-size="7.6" text-anchor="middle" fill="#1a1a1a" textLength="23.78" lengthAdjust="spacingAndGlyphs" stroke="#1a1a1a" stroke-width="0.12">&gt;10000</text>
<text x="468.90" y="268.57" font-size="7.6" text-anchor="middle" fill="#1a1a1a" textLength="20.43" lengthAdjust="spacingAndGlyphs" stroke="#1a1a1a" stroke-width="0.1">t(4;14)</text>
<rect x="334.00" y="272.70" width="68.30" height="11.30" fill="#e6e6e6"/>
<rect x="404.00" y="272.70" width="35.30" height="11.30" fill="#e6e6e6"/>
<rect x="440.80" y="272.70" width="55.20" height="11.30" fill="#e6e6e6"/>
<line x1="338.90" y1="278.45" x2="348.80" y2="278.45" stroke="#5a3cb0" stroke-width="1.4"/>
<circle cx="343.90" cy="278.45" r="1.75" fill="#111"/>
<text x="354.60" y="281.15" font-size="7.6" text-anchor="start" fill="#1a1a1a" textLength="23.18" lengthAdjust="spacingAndGlyphs" stroke="#1a1a1a" stroke-width="0.12">KMS34</text>
<text x="421.95" y="281.15" font-size="7.6" text-anchor="middle" fill="#1a1a1a" textLength="23.78" lengthAdjust="spacingAndGlyphs" stroke="#1a1a1a" stroke-width="0.12">&gt;10000</text>
<text x="468.90" y="281.15" font-size="7.6" text-anchor="middle" fill="#1a1a1a" textLength="20.43" lengthAdjust="spacingAndGlyphs" stroke="#1a1a1a" stroke-width="0.1">t(4;14)</text>
<rect x="334.00" y="285.28" width="68.30" height="11.30" fill="#f3f3f3"/>
<rect x="404.00" y="285.28" width="35.30" height="11.30" fill="#f3f3f3"/>
<rect x="440.80" y="285.28" width="55.20" height="11.30" fill="#f3f3f3"/>
<line x1="338.90" y1="291.03" x2="348.80" y2="291.03" stroke="#b03060" stroke-width="1.4"/>
<circle cx="343.90" cy="291.03" r="1.75" fill="#552233"/>
<text x="354.60" y="293.73" font-size="7.6" text-anchor="start" fill="#1a1a1a" textLength="12.58" lengthAdjust="spacingAndGlyphs" stroke="#1a1a1a" stroke-width="0.12">LP1</text>
<text x="421.95" y="293.73" font-size="7.6" text-anchor="middle" fill="#1a1a1a" textLength="23.78" lengthAdjust="spacingAndGlyphs" stroke="#1a1a1a" stroke-width="0.12">&gt;10000</text>
<text x="468.90" y="293.73" font-size="7.6" text-anchor="middle" fill="#1a1a1a" textLength="20.43" lengthAdjust="spacingAndGlyphs" stroke="#1a1a1a" stroke-width="0.1">t(4;14)</text>
<rect x="334.00" y="297.86" width="68.30" height="11.30" fill="#e6e6e6"/>
<rect x="404.00" y="297.86" width="35.30" height="11.30" fill="#e6e6e6"/>
<rect x="440.80" y="297.86" width="55.20" height="11.30" fill="#e6e6e6"/>
<line x1="338.90" y1="303.61" x2="348.80" y2="303.61" stroke="#e0a0d0" stroke-width="1.4"/>
<circle cx="343.90" cy="303.61" r="1.75" fill="#554455"/>
<text x="354.60" y="306.31" font-size="7.6" text-anchor="start" fill="#1a1a1a" textLength="21.20" lengthAdjust="spacingAndGlyphs" stroke="#1a1a1a" stroke-width="0.12">MM.1s</text>
<text x="421.95" y="306.31" font-size="7.6" text-anchor="middle" fill="#1a1a1a" textLength="23.78" lengthAdjust="spacingAndGlyphs" stroke="#1a1a1a" stroke-width="0.12">&gt;10000</text>
<text x="468.90" y="306.31" font-size="7.6" text-anchor="middle" fill="#1a1a1a" textLength="24.36" lengthAdjust="spacingAndGlyphs" stroke="#1a1a1a" stroke-width="0.1">t(14;16)</text>
<rect x="334.00" y="310.44" width="68.30" height="11.30" fill="#f3f3f3"/>
<rect x="404.00" y="310.44" width="35.30" height="11.30" fill="#f3f3f3"/>
<rect x="440.80" y="310.44" width="55.20" height="11.30" fill="#f3f3f3"/>
<line x1="338.90" y1="316.19" x2="348.80" y2="316.19" stroke="#d83030" stroke-width="1.4"/>
<circle cx="343.90" cy="316.19" r="1.75" fill="#111"/>
<text x="354.60" y="318.89" font-size="7.6" text-anchor="start" fill="#1a1a1a" textLength="23.96" lengthAdjust="spacingAndGlyphs" stroke="#1a1a1a" stroke-width="0.12">MOLP2</text>
<text x="421.95" y="318.89" font-size="7.6" text-anchor="middle" fill="#1a1a1a" textLength="23.78" lengthAdjust="spacingAndGlyphs" stroke="#1a1a1a" stroke-width="0.12">&gt;10000</text>
<rect x="334.00" y="323.02" width="68.30" height="11.30" fill="#e6e6e6"/>
<rect x="404.00" y="323.02" width="35.30" height="11.30" fill="#e6e6e6"/>
<rect x="440.80" y="323.02" width="55.20" height="11.30" fill="#e6e6e6"/>
<line x1="338.90" y1="328.77" x2="348.80" y2="328.77" stroke="#e89520" stroke-width="1.4"/>
<circle cx="343.90" cy="328.77" r="1.75" fill="#111"/>
<text x="354.60" y="331.47" font-size="7.6" text-anchor="start" fill="#1a1a1a" textLength="23.96" lengthAdjust="spacingAndGlyphs" stroke="#1a1a1a" stroke-width="0.12">MOLP8</text>
<text x="421.95" y="331.47" font-size="7.6" text-anchor="middle" fill="#1a1a1a" textLength="23.78" lengthAdjust="spacingAndGlyphs" stroke="#1a1a1a" stroke-width="0.12">&gt;10000</text>
<text x="468.90" y="331.47" font-size="7.6" text-anchor="middle" fill="#d03030" textLength="23.83" lengthAdjust="spacingAndGlyphs" stroke="#d03030" stroke-width="0.1">t(11;14)</text>
<rect x="334.00" y="335.60" width="68.30" height="11.30" fill="#f3f3f3"/>
<rect x="404.00" y="335.60" width="35.30" height="11.30" fill="#f3f3f3"/>
<rect x="440.80" y="335.60" width="55.20" height="11.30" fill="#f3f3f3"/>
<line x1="338.90" y1="341.35" x2="348.80" y2="341.35" stroke="#b0d020" stroke-width="1.4"/>
<circle cx="343.90" cy="341.35" r="1.75" fill="#111"/>
<text x="354.60" y="344.05" font-size="7.6" text-anchor="start" fill="#1a1a1a" textLength="20.03" lengthAdjust="spacingAndGlyphs" stroke="#1a1a1a" stroke-width="0.12">OPM2</text>
<text x="421.95" y="344.05" font-size="7.6" text-anchor="middle" fill="#1a1a1a" textLength="23.78" lengthAdjust="spacingAndGlyphs" stroke="#1a1a1a" stroke-width="0.12">&gt;10000</text>
<text x="468.90" y="344.05" font-size="7.6" text-anchor="middle" fill="#1a1a1a" textLength="20.43" lengthAdjust="spacingAndGlyphs" stroke="#1a1a1a" stroke-width="0.1">t(4;14)</text>
<rect x="334.00" y="348.18" width="68.30" height="11.30" fill="#e6e6e6"/>
<rect x="404.00" y="348.18" width="35.30" height="11.30" fill="#e6e6e6"/>
<rect x="440.80" y="348.18" width="55.20" height="11.30" fill="#e6e6e6"/>
<line x1="338.90" y1="353.93" x2="348.80" y2="353.93" stroke="#3c9a3c" stroke-width="1.4"/>
<circle cx="343.90" cy="353.93" r="1.75" fill="#111"/>
<text x="354.60" y="356.63" font-size="7.6" text-anchor="start" fill="#1a1a1a" textLength="13.36" lengthAdjust="spacingAndGlyphs" stroke="#1a1a1a" stroke-width="0.12">PE1</text>
<text x="421.95" y="356.63" font-size="7.6" text-anchor="middle" fill="#1a1a1a" textLength="23.78" lengthAdjust="spacingAndGlyphs" stroke="#1a1a1a" stroke-width="0.12">&gt;10000</text>
<text x="468.90" y="356.63" font-size="7.6" text-anchor="middle" fill="#d03030" textLength="23.83" lengthAdjust="spacingAndGlyphs" stroke="#d03030" stroke-width="0.1">t(11;14)</text>
<rect x="334.00" y="360.76" width="68.30" height="11.30" fill="#f3f3f3"/>
<rect x="404.00" y="360.76" width="35.30" height="11.30" fill="#f3f3f3"/>
<rect x="440.80" y="360.76" width="55.20" height="11.30" fill="#f3f3f3"/>
<line x1="338.90" y1="366.51" x2="348.80" y2="366.51" stroke="#4050c0" stroke-width="1.4"/>
<circle cx="343.90" cy="366.51" r="1.75" fill="#111"/>
<text x="354.60" y="369.21" font-size="7.6" text-anchor="start" fill="#1a1a1a" textLength="25.13" lengthAdjust="spacingAndGlyphs" stroke="#1a1a1a" stroke-width="0.12">SKMM1</text>
<text x="421.95" y="369.21" font-size="7.6" text-anchor="middle" fill="#1a1a1a" textLength="23.78" lengthAdjust="spacingAndGlyphs" stroke="#1a1a1a" stroke-width="0.12">&gt;10000</text>
<text x="468.90" y="369.21" font-size="7.6" text-anchor="middle" fill="#1a1a1a" textLength="24.36" lengthAdjust="spacingAndGlyphs" stroke="#1a1a1a" stroke-width="0.1">t(14;20)</text>
<rect x="334.00" y="373.34" width="68.30" height="11.30" fill="#e6e6e6"/>
<rect x="404.00" y="373.34" width="35.30" height="11.30" fill="#e6e6e6"/>
<rect x="440.80" y="373.34" width="55.20" height="11.30" fill="#e6e6e6"/>
<line x1="338.90" y1="379.09" x2="348.80" y2="379.09" stroke="#7a55c0" stroke-width="1.4"/>
<rect x="342.15" y="377.34" width="3.50" height="3.50" fill="#111"/>
<text x="354.60" y="381.79" font-size="7.6" text-anchor="start" fill="#1a1a1a" textLength="16.90" lengthAdjust="spacingAndGlyphs" stroke="#1a1a1a" stroke-width="0.12">U266</text>
<text x="421.95" y="381.79" font-size="7.6" text-anchor="middle" fill="#1a1a1a" textLength="23.78" lengthAdjust="spacingAndGlyphs" stroke="#1a1a1a" stroke-width="0.12">&gt;10000</text>
<text x="468.90" y="381.79" font-size="7.6" text-anchor="middle" fill="#d03030" textLength="23.83" lengthAdjust="spacingAndGlyphs" stroke="#d03030" stroke-width="0.1">t(11;14)</text>
<rect x="334.00" y="385.92" width="68.30" height="11.30" fill="#f3f3f3"/>
<rect x="404.00" y="385.92" width="35.30" height="11.30" fill="#f3f3f3"/>
<rect x="440.80" y="385.92" width="55.20" height="11.30" fill="#f3f3f3"/>
<line x1="338.90" y1="391.67" x2="348.80" y2="391.67" stroke="#c83030" stroke-width="1.4"/>
<rect x="342.15" y="389.92" width="3.50" height="3.50" fill="#111"/>
<text x="354.60" y="394.37" font-size="7.6" text-anchor="start" fill="#1a1a1a" textLength="14.14" lengthAdjust="spacingAndGlyphs" stroke="#1a1a1a" stroke-width="0.12">XG1</text>
<text x="421.95" y="394.37" font-size="7.6" text-anchor="middle" fill="#1a1a1a" textLength="23.78" lengthAdjust="spacingAndGlyphs" stroke="#1a1a1a" stroke-width="0.12">&gt;10000</text>
<text x="468.90" y="394.37" font-size="7.6" text-anchor="middle" fill="#d03030" textLength="23.83" lengthAdjust="spacingAndGlyphs" stroke="#d03030" stroke-width="0.1">t(11;14)</text>
<rect x="334.00" y="398.50" width="68.30" height="11.30" fill="#e6e6e6"/>
<rect x="404.00" y="398.50" width="35.30" height="11.30" fill="#e6e6e6"/>
<rect x="440.80" y="398.50" width="55.20" height="11.30" fill="#e6e6e6"/>
<line x1="338.90" y1="404.25" x2="348.80" y2="404.25" stroke="#111" stroke-width="1.4"/>
<circle cx="343.90" cy="404.25" r="1.75" fill="#111"/>
<text x="354.60" y="406.95" font-size="7.6" text-anchor="start" fill="#1a1a1a" textLength="14.14" lengthAdjust="spacingAndGlyphs" stroke="#1a1a1a" stroke-width="0.12">XG7</text>
<text x="421.95" y="406.95" font-size="7.6" text-anchor="middle" fill="#1a1a1a" textLength="23.78" lengthAdjust="spacingAndGlyphs" stroke="#1a1a1a" stroke-width="0.12">&gt;10000</text>
<text x="468.90" y="406.95" font-size="7.6" text-anchor="middle" fill="#1a1a1a" textLength="20.43" lengthAdjust="spacingAndGlyphs" stroke="#1a1a1a" stroke-width="0.1">t(4;14)</text>
<text x="8.50" y="235.90" font-size="12.7" text-anchor="start" fill="#000" textLength="8.99" lengthAdjust="spacingAndGlyphs" font-weight="bold" stroke="#000" stroke-width="0.35">B</text>
<circle cx="80.80" cy="274.50" r="2.55" fill="#e0961e"/>
<circle cx="86.20" cy="274.50" r="2.55" fill="#e0961e"/>
<circle cx="94.10" cy="276.60" r="2.55" fill="#e0961e"/>
<circle cx="99.10" cy="274.50" r="2.55" fill="#e0961e"/>
<circle cx="88.80" cy="279.80" r="2.55" fill="#e0961e"/>
<circle cx="84.00" cy="283.80" r="2.55" fill="#e0961e"/>
<circle cx="93.10" cy="286.40" r="2.55" fill="#e0961e"/>
<circle cx="87.30" cy="288.50" r="2.55" fill="#e0961e"/>
<circle cx="77.20" cy="291.80" r="2.55" fill="#e0961e"/>
<circle cx="77.80" cy="294.20" r="2.55" fill="#e0961e"/>
<circle cx="83.30" cy="296.10" r="2.55" fill="#e0961e"/>
<circle cx="89.00" cy="296.80" r="2.55" fill="#e0961e"/>
<circle cx="94.50" cy="297.50" r="2.55" fill="#e0961e"/>
<circle cx="91.60" cy="292.20" r="2.55" fill="#e0961e"/>
<circle cx="101.30" cy="290.30" r="2.55" fill="#e0961e"/>
<circle cx="100.60" cy="294.20" r="2.55" fill="#e0961e"/>
<circle cx="89.00" cy="316.30" r="2.55" fill="#e0961e"/>
<circle cx="94.80" cy="316.30" r="2.55" fill="#e0961e"/>
<circle cx="89.00" cy="324.20" r="2.55" fill="#e0961e"/>
<circle cx="92.60" cy="328.60" r="2.55" fill="#e0961e"/>
<circle cx="89.00" cy="333.60" r="2.55" fill="#e0961e"/>
<circle cx="47.90" cy="264.40" r="2.55" fill="#63a83f"/>
<circle cx="53.40" cy="264.40" r="2.55" fill="#63a83f"/>
<circle cx="59.00" cy="264.80" r="2.55" fill="#63a83f"/>
<circle cx="53.30" cy="271.20" r="2.55" fill="#63a83f"/>
<circle cx="57.30" cy="275.90" r="2.55" fill="#63a83f"/>
<circle cx="53.30" cy="279.50" r="2.55" fill="#63a83f"/>
<circle cx="58.50" cy="286.70" r="2.55" fill="#63a83f"/>
<circle cx="53.30" cy="289.60" r="2.55" fill="#63a83f"/>
<line x1="53.20" y1="264.80" x2="53.20" y2="284.60" stroke="#111" stroke-width="1.1"/>
<line x1="50.00" y1="264.80" x2="56.40" y2="264.80" stroke="#111" stroke-width="1.2"/>
<line x1="50.00" y1="284.60" x2="56.40" y2="284.60" stroke="#111" stroke-width="1.2"/>
<line x1="46.00" y1="274.50" x2="60.50" y2="274.50" stroke="#111" stroke-width="1.3"/>
<line x1="89.30" y1="278.10" x2="89.30" y2="312.70" stroke="#111" stroke-width="1.1"/>
<line x1="86.10" y1="278.10" x2="92.50" y2="278.10" stroke="#111" stroke-width="1.2"/>
<line x1="86.10" y1="312.70" x2="92.50" y2="312.70" stroke="#111" stroke-width="1.2"/>
<line x1="81.80" y1="295.80" x2="96.50" y2="295.80" stroke="#111" stroke-width="1.3"/>
<line x1="32.50" y1="255.10" x2="32.50" y2="339.10" stroke="#111" stroke-width="1.2"/>
<line x1="29.30" y1="335.30" x2="32.50" y2="335.30" stroke="#111" stroke-width="1.0"/>
<text x="25.30" y="337.96" font-size="7.5" text-anchor="end" fill="#222" textLength="3.75" lengthAdjust="spacingAndGlyphs">0</text>
<line x1="29.30" y1="316.08" x2="32.50" y2="316.08" stroke="#111" stroke-width="1.0"/>
<text x="25.30" y="318.74" font-size="7.5" text-anchor="end" fill="#222" textLength="3.75" lengthAdjust="spacingAndGlyphs">2</text>
<line x1="29.30" y1="296.86" x2="32.50" y2="296.86" stroke="#111" stroke-width="1.0"/>
<text x="25.30" y="299.52" font-size="7.5" text-anchor="end" fill="#222" textLength="3.75" lengthAdjust="spacingAndGlyphs">4</text>
<line x1="29.30" y1="277.64" x2="32.50" y2="277.64" stroke="#111" stroke-width="1.0"/>
<text x="25.30" y="280.30" font-size="7.5" text-anchor="end" fill="#222" textLength="3.75" lengthAdjust="spacingAndGlyphs">6</text>
<line x1="29.30" y1="258.42" x2="32.50" y2="258.42" stroke="#111" stroke-width="1.0"/>
<text x="25.30" y="261.08" font-size="7.5" text-anchor="end" fill="#222" textLength="3.75" lengthAdjust="spacingAndGlyphs">8</text>
<line x1="50.10" y1="338.50" x2="92.50" y2="338.50" stroke="#111" stroke-width="1.3"/>
<line x1="53.20" y1="338.50" x2="53.20" y2="341.30" stroke="#111" stroke-width="1.0"/>
<line x1="89.30" y1="338.50" x2="89.30" y2="341.30" stroke="#111" stroke-width="1.0"/>
<text x="53.20" y="348.80" font-size="7.8" text-anchor="middle" fill="#222" textLength="10.69" lengthAdjust="spacingAndGlyphs">sen</text>
<text x="89.30" y="348.80" font-size="7.8" text-anchor="middle" fill="#222" textLength="9.21" lengthAdjust="spacingAndGlyphs">res</text>
<text x="71.30" y="247.50" font-size="10.3" text-anchor="middle" fill="#111" textLength="22.67" lengthAdjust="spacingAndGlyphs">BCL2</text>
<text x="112.30" y="290.60" font-size="6.4" text-anchor="middle" fill="#222" textLength="27.58" lengthAdjust="spacingAndGlyphs" transform="rotate(-90 112.30 290.60)">P=0.0004</text>
<circle cx="190.80" cy="264.40" r="2.55" fill="#e0961e"/>
<circle cx="193.10" cy="270.90" r="2.55" fill="#e0961e"/>
<circle cx="185.40" cy="274.50" r="2.55" fill="#e0961e"/>
<circle cx="197.00" cy="275.20" r="2.55" fill="#e0961e"/>
<circle cx="202.00" cy="273.50" r="2.55" fill="#e0961e"/>
<circle cx="190.50" cy="276.60" r="2.55" fill="#e0961e"/>
<circle cx="184.70" cy="288.20" r="2.55" fill="#e0961e"/>
<circle cx="190.50" cy="286.00" r="2.55" fill="#e0961e"/>
<circle cx="200.60" cy="287.50" r="2.55" fill="#e0961e"/>
<circle cx="179.00" cy="291.80" r="2.55" fill="#e0961e"/>
<circle cx="180.40" cy="293.90" r="2.55" fill="#e0961e"/>
<circle cx="188.30" cy="293.20" r="2.55" fill="#e0961e"/>
<circle cx="194.10" cy="294.20" r="2.55" fill="#e0961e"/>
<circle cx="199.10" cy="294.20" r="2.55" fill="#e0961e"/>
<circle cx="203.50" cy="291.00" r="2.55" fill="#e0961e"/>
<circle cx="203.50" cy="293.70" r="2.55" fill="#e0961e"/>
<circle cx="184.40" cy="297.80" r="2.55" fill="#e0961e"/>
<circle cx="189.80" cy="298.30" r="2.55" fill="#e0961e"/>
<circle cx="196.30" cy="302.30" r="2.55" fill="#e0961e"/>
<circle cx="190.80" cy="304.80" r="2.55" fill="#e0961e"/>
<circle cx="160.20" cy="285.30" r="2.55" fill="#63a83f"/>
<circle cx="155.10" cy="287.90" r="2.55" fill="#63a83f"/>
<circle cx="155.10" cy="295.40" r="2.55" fill="#63a83f"/>
<circle cx="145.50" cy="301.90" r="2.55" fill="#63a83f"/>
<circle cx="151.30" cy="301.90" r="2.55" fill="#63a83f"/>
<circle cx="164.50" cy="300.40" r="2.55" fill="#63a83f"/>
<circle cx="160.50" cy="304.80" r="2.55" fill="#63a83f"/>
<circle cx="155.10" cy="306.20" r="2.55" fill="#63a83f"/>
<line x1="155.10" y1="290.30" x2="155.10" y2="305.50" stroke="#111" stroke-width="1.1"/>
<line x1="151.90" y1="290.30" x2="158.30" y2="290.30" stroke="#111" stroke-width="1.2"/>
<line x1="151.90" y1="305.50" x2="158.30" y2="305.50" stroke="#111" stroke-width="1.2"/>
<line x1="148.40" y1="297.80" x2="161.60" y2="297.80" stroke="#111" stroke-width="1.3"/>
<line x1="190.90" y1="277.80" x2="190.90" y2="298.60" stroke="#111" stroke-width="1.1"/>
<line x1="187.70" y1="277.80" x2="194.10" y2="277.80" stroke="#111" stroke-width="1.2"/>
<line x1="187.70" y1="298.60" x2="194.10" y2="298.60" stroke="#111" stroke-width="1.2"/>
<line x1="184.00" y1="288.50" x2="198.40" y2="288.50" stroke="#111" stroke-width="1.3"/>
<line x1="134.50" y1="253.20" x2="134.50" y2="339.20" stroke="#111" stroke-width="1.2"/>
<line x1="131.30" y1="335.30" x2="134.50" y2="335.30" stroke="#111" stroke-width="1.0"/>
<text x="127.20" y="337.96" font-size="7.5" text-anchor="end" fill="#222" textLength="3.75" lengthAdjust="spacingAndGlyphs">0</text>
<line x1="131.30" y1="315.60" x2="134.50" y2="315.60" stroke="#111" stroke-width="1.0"/>
<text x="127.20" y="318.26" font-size="7.5" text-anchor="end" fill="#222" textLength="3.75" lengthAdjust="spacingAndGlyphs">2</text>
<line x1="131.30" y1="295.90" x2="134.50" y2="295.90" stroke="#111" stroke-width="1.0"/>
<text x="127.20" y="298.56" font-size="7.5" text-anchor="end" fill="#222" textLength="3.75" lengthAdjust="spacingAndGlyphs">4</text>
<line x1="131.30" y1="276.20" x2="134.50" y2="276.20" stroke="#111" stroke-width="1.0"/>
<text x="127.20" y="278.86" font-size="7.5" text-anchor="end" fill="#222" textLength="3.75" lengthAdjust="spacingAndGlyphs">6</text>
<line x1="131.30" y1="256.50" x2="134.50" y2="256.50" stroke="#111" stroke-width="1.0"/>
<text x="127.20" y="259.16" font-size="7.5" text-anchor="end" fill="#222" textLength="3.75" lengthAdjust="spacingAndGlyphs">8</text>
<line x1="152.30" y1="338.60" x2="194.50" y2="338.60" stroke="#111" stroke-width="1.3"/>
<line x1="155.10" y1="338.60" x2="155.10" y2="341.40" stroke="#111" stroke-width="1.0"/>
<line x1="190.90" y1="338.60" x2="190.90" y2="341.40" stroke="#111" stroke-width="1.0"/>
<text x="155.10" y="348.90" font-size="7.8" text-anchor="middle" fill="#222" textLength="10.69" lengthAdjust="spacingAndGlyphs">sen</text>
<text x="190.90" y="348.90" font-size="7.8" text-anchor="middle" fill="#222" textLength="9.21" lengthAdjust="spacingAndGlyphs">res</text>
<text x="169.50" y="247.50" font-size="10.3" text-anchor="middle" fill="#111" textLength="32.75" lengthAdjust="spacingAndGlyphs">BCL2L1</text>
<text x="213.00" y="291.00" font-size="6.4" text-anchor="middle" fill="#222" textLength="27.58" lengthAdjust="spacingAndGlyphs" transform="rotate(-90 213.00 291.00)">P=0.0053</text>
<circle cx="283.00" cy="263.90" r="2.55" fill="#e0961e"/>
<circle cx="288.30" cy="265.40" r="2.55" fill="#e0961e"/>
<circle cx="294.50" cy="265.40" r="2.55" fill="#e0961e"/>
<circle cx="300.30" cy="264.80" r="2.55" fill="#e0961e"/>
<circle cx="279.70" cy="269.40" r="2.55" fill="#e0961e"/>
<circle cx="304.20" cy="269.40" r="2.55" fill="#e0961e"/>
<circle cx="278.90" cy="273.80" r="2.55" fill="#e0961e"/>
<circle cx="304.90" cy="273.80" r="2.55" fill="#e0961e"/>
<circle cx="281.10" cy="278.10" r="2.55" fill="#e0961e"/>
<circle cx="287.60" cy="279.80" r="2.55" fill="#e0961e"/>
<circle cx="302.00" cy="278.10" r="2.55" fill="#e0961e"/>
<circle cx="291.90" cy="283.10" r="2.55" fill="#e0961e"/>
<circle cx="297.40" cy="281.70" r="2.55" fill="#e0961e"/>
<circle cx="284.70" cy="273.00" r="2.55" fill="#e0961e"/>
<circle cx="297.00" cy="273.00" r="2.55" fill="#e0961e"/>
<circle cx="291.90" cy="269.40" r="2.55" fill="#e0961e"/>
<circle cx="290.50" cy="275.90" r="2.55" fill="#e0961e"/>
<circle cx="286.50" cy="268.00" r="2.55" fill="#e0961e"/>
<circle cx="297.00" cy="267.50" r="2.55" fill="#e0961e"/>
<circle cx="283.50" cy="277.50" r="2.55" fill="#e0961e"/>
<circle cx="300.00" cy="277.00" r="2.55" fill="#e0961e"/>
<circle cx="294.00" cy="279.00" r="2.55" fill="#e0961e"/>
<circle cx="288.00" cy="272.50" r="2.55" fill="#e0961e"/>
<circle cx="300.50" cy="271.50" r="2.55" fill="#e0961e"/>
<circle cx="292.50" cy="265.50" r="2.55" fill="#e0961e"/>
<circle cx="284.00" cy="266.00" r="2.55" fill="#e0961e"/>
<circle cx="256.60" cy="273.80" r="2.55" fill="#63a83f"/>
<circle cx="251.50" cy="276.60" r="2.55" fill="#63a83f"/>
<circle cx="246.50" cy="279.80" r="2.55" fill="#63a83f"/>
<circle cx="265.70" cy="280.70" r="2.55" fill="#63a83f"/>
<circle cx="251.50" cy="283.80" r="2.55" fill="#63a83f"/>
<circle cx="261.60" cy="284.60" r="2.55" fill="#63a83f"/>
<circle cx="256.20" cy="286.40" r="2.55" fill="#63a83f"/>
<circle cx="256.40" cy="279.50" r="2.55" fill="#63a83f"/>
<line x1="256.30" y1="277.40" x2="256.30" y2="284.90" stroke="#111" stroke-width="1.1"/>
<line x1="253.10" y1="277.40" x2="259.50" y2="277.40" stroke="#111" stroke-width="1.2"/>
<line x1="253.10" y1="284.90" x2="259.50" y2="284.90" stroke="#111" stroke-width="1.2"/>
<line x1="249.40" y1="281.30" x2="263.10" y2="281.30" stroke="#111" stroke-width="1.3"/>
<line x1="291.90" y1="267.70" x2="291.90" y2="278.10" stroke="#111" stroke-width="1.1"/>
<line x1="288.70" y1="267.70" x2="295.10" y2="267.70" stroke="#111" stroke-width="1.2"/>
<line x1="288.70" y1="278.10" x2="295.10" y2="278.10" stroke="#111" stroke-width="1.2"/>
<line x1="285.00" y1="273.30" x2="299.10" y2="273.30" stroke="#111" stroke-width="1.3"/>
<line x1="234.90" y1="266.20" x2="234.90" y2="339.00" stroke="#111" stroke-width="1.2"/>
<line x1="231.70" y1="335.00" x2="234.90" y2="335.00" stroke="#111" stroke-width="1.0"/>
<text x="227.60" y="337.66" font-size="7.5" text-anchor="end" fill="#222" textLength="3.75" lengthAdjust="spacingAndGlyphs">0</text>
<line x1="231.70" y1="318.60" x2="234.90" y2="318.60" stroke="#111" stroke-width="1.0"/>
<text x="227.60" y="321.26" font-size="7.5" text-anchor="end" fill="#222" textLength="3.75" lengthAdjust="spacingAndGlyphs">2</text>
<line x1="231.70" y1="302.20" x2="234.90" y2="302.20" stroke="#111" stroke-width="1.0"/>
<text x="227.60" y="304.86" font-size="7.5" text-anchor="end" fill="#222" textLength="3.75" lengthAdjust="spacingAndGlyphs">4</text>
<line x1="231.70" y1="285.80" x2="234.90" y2="285.80" stroke="#111" stroke-width="1.0"/>
<text x="227.60" y="288.46" font-size="7.5" text-anchor="end" fill="#222" textLength="3.75" lengthAdjust="spacingAndGlyphs">6</text>
<line x1="231.70" y1="269.40" x2="234.90" y2="269.40" stroke="#111" stroke-width="1.0"/>
<text x="227.60" y="272.06" font-size="7.5" text-anchor="end" fill="#222" textLength="3.75" lengthAdjust="spacingAndGlyphs">8</text>
<line x1="252.70" y1="338.40" x2="295.40" y2="338.40" stroke="#111" stroke-width="1.3"/>
<line x1="256.30" y1="338.40" x2="256.30" y2="341.20" stroke="#111" stroke-width="1.0"/>
<line x1="291.90" y1="338.40" x2="291.90" y2="341.20" stroke="#111" stroke-width="1.0"/>
<text x="256.30" y="348.70" font-size="7.8" text-anchor="middle" fill="#222" textLength="10.69" lengthAdjust="spacingAndGlyphs">sen</text>
<text x="291.90" y="348.70" font-size="7.8" text-anchor="middle" fill="#222" textLength="9.21" lengthAdjust="spacingAndGlyphs">res</text>
<text x="273.50" y="247.50" font-size="10.3" text-anchor="middle" fill="#111" textLength="24.18" lengthAdjust="spacingAndGlyphs">MCL1</text>
<text x="315.10" y="291.00" font-size="6.4" text-anchor="middle" fill="#222" textLength="27.58" lengthAdjust="spacingAndGlyphs" transform="rotate(-90 315.10 291.00)">P=0.0002</text>
<text x="16.80" y="296.70" font-size="9.0" text-anchor="middle" fill="#222" textLength="55.15" lengthAdjust="spacingAndGlyphs" transform="rotate(-90 16.80 296.70)">Log2(FPKM+1)</text>
<circle cx="191.20" cy="446.30" r="2.55" fill="#e0961e"/>
<circle cx="192.60" cy="452.50" r="2.55" fill="#e0961e"/>
<circle cx="188.30" cy="456.00" r="2.55" fill="#e0961e"/>
<circle cx="178.90" cy="460.70" r="2.55" fill="#e0961e"/>
<circle cx="178.90" cy="464.30" r="2.55" fill="#e0961e"/>
<circle cx="184.70" cy="464.00" r="2.55" fill="#e0961e"/>
<circle cx="191.20" cy="463.60" r="2.55" fill="#e0961e"/>
<circle cx="197.00" cy="464.30" r="2.55" fill="#e0961e"/>
<circle cx="203.50" cy="460.70" r="2.55" fill="#e0961e"/>
<circle cx="203.50" cy="464.00" r="2.55" fill="#e0961e"/>
<circle cx="193.40" cy="459.30" r="2.55" fill="#e0961e"/>
<circle cx="183.00" cy="462.00" r="2.55" fill="#e0961e"/>
<circle cx="199.00" cy="462.00" r="2.55" fill="#e0961e"/>
<circle cx="179.50" cy="462.50" r="2.55" fill="#e0961e"/>
<circle cx="186.00" cy="461.00" r="2.55" fill="#e0961e"/>
<circle cx="195.00" cy="463.50" r="2.55" fill="#e0961e"/>
<circle cx="201.00" cy="462.50" r="2.55" fill="#e0961e"/>
<circle cx="188.00" cy="464.50" r="2.55" fill="#e0961e"/>
<circle cx="181.50" cy="464.60" r="2.55" fill="#e0961e"/>
<circle cx="202.00" cy="458.50" r="2.55" fill="#e0961e"/>
<circle cx="197.50" cy="459.50" r="2.55" fill="#e0961e"/>
<circle cx="155.10" cy="393.70" r="2.55" fill="#63a83f"/>
<circle cx="155.10" cy="418.90" r="2.55" fill="#63a83f"/>
<circle cx="155.10" cy="434.80" r="2.55" fill="#63a83f"/>
<circle cx="160.20" cy="444.90" r="2.55" fill="#63a83f"/>
<circle cx="155.10" cy="447.70" r="2.55" fill="#63a83f"/>
<circle cx="160.90" cy="454.20" r="2.55" fill="#63a83f"/>
<circle cx="155.10" cy="455.70" r="2.55" fill="#63a83f"/>
<circle cx="155.10" cy="462.90" r="2.55" fill="#63a83f"/>
<line x1="155.10" y1="416.00" x2="155.10" y2="462.20" stroke="#111" stroke-width="1.1"/>
<line x1="151.90" y1="416.00" x2="158.30" y2="416.00" stroke="#111" stroke-width="1.2"/>
<line x1="151.90" y1="462.20" x2="158.30" y2="462.20" stroke="#111" stroke-width="1.2"/>
<line x1="147.90" y1="439.10" x2="162.40" y2="439.10" stroke="#111" stroke-width="1.3"/>
<line x1="191.20" y1="457.10" x2="191.20" y2="465.80" stroke="#111" stroke-width="1.1"/>
<line x1="188.00" y1="457.10" x2="194.40" y2="457.10" stroke="#111" stroke-width="1.2"/>
<line x1="188.00" y1="465.80" x2="194.40" y2="465.80" stroke="#111" stroke-width="1.2"/>
<line x1="184.00" y1="461.20" x2="198.00" y2="461.20" stroke="#111" stroke-width="1.3"/>
<line x1="133.80" y1="389.40" x2="133.80" y2="468.50" stroke="#111" stroke-width="1.2"/>
<line x1="130.60" y1="464.60" x2="133.80" y2="464.60" stroke="#111" stroke-width="1.0"/>
<text x="127.70" y="467.48" font-size="8.1" text-anchor="end" fill="#222" textLength="3.92" lengthAdjust="spacingAndGlyphs">0</text>
<line x1="130.60" y1="450.15" x2="133.80" y2="450.15" stroke="#111" stroke-width="1.0"/>
<text x="127.70" y="453.03" font-size="8.1" text-anchor="end" fill="#222" textLength="3.92" lengthAdjust="spacingAndGlyphs">5</text>
<line x1="130.60" y1="435.70" x2="133.80" y2="435.70" stroke="#111" stroke-width="1.0"/>
<text x="127.70" y="438.58" font-size="8.1" text-anchor="end" fill="#222" textLength="7.84" lengthAdjust="spacingAndGlyphs">10</text>
<line x1="130.60" y1="421.25" x2="133.80" y2="421.25" stroke="#111" stroke-width="1.0"/>
<text x="127.70" y="424.13" font-size="8.1" text-anchor="end" fill="#222" textLength="7.84" lengthAdjust="spacingAndGlyphs">15</text>
<line x1="130.60" y1="406.80" x2="133.80" y2="406.80" stroke="#111" stroke-width="1.0"/>
<text x="127.70" y="409.68" font-size="8.1" text-anchor="end" fill="#222" textLength="7.84" lengthAdjust="spacingAndGlyphs">20</text>
<line x1="130.60" y1="392.35" x2="133.80" y2="392.35" stroke="#111" stroke-width="1.0"/>
<text x="127.70" y="395.23" font-size="8.1" text-anchor="end" fill="#222" textLength="7.84" lengthAdjust="spacingAndGlyphs">25</text>
<line x1="152.30" y1="467.90" x2="194.50" y2="467.90" stroke="#111" stroke-width="1.3"/>
<line x1="155.10" y1="467.90" x2="155.10" y2="470.70" stroke="#111" stroke-width="1.0"/>
<line x1="191.20" y1="467.90" x2="191.20" y2="470.70" stroke="#111" stroke-width="1.0"/>
<text x="155.10" y="479.30" font-size="7.8" text-anchor="middle" fill="#222" textLength="10.69" lengthAdjust="spacingAndGlyphs">sen</text>
<text x="191.20" y="479.30" font-size="7.8" text-anchor="middle" fill="#222" textLength="9.21" lengthAdjust="spacingAndGlyphs">res</text>
<text x="173.30" y="375.50" font-size="10.3" text-anchor="middle" fill="#111" textLength="57.94" lengthAdjust="spacingAndGlyphs">BCL2/BCL2L1</text>
<text x="210.10" y="421.00" font-size="6.4" text-anchor="middle" fill="#222" textLength="27.58" lengthAdjust="spacingAndGlyphs" transform="rotate(-90 210.10 421.00)">P=0.0002</text>
<text x="114.40" y="429.20" font-size="9.0" text-anchor="middle" fill="#222" textLength="39.78" lengthAdjust="spacingAndGlyphs" transform="rotate(-90 114.40 429.20)">Ratio FPKM</text>
<circle cx="282.70" cy="456.20" r="2.55" fill="#e0961e"/>
<circle cx="282.70" cy="460.90" r="2.55" fill="#e0961e"/>
<circle cx="284.00" cy="464.20" r="2.55" fill="#e0961e"/>
<circle cx="288.10" cy="457.50" r="2.55" fill="#e0961e"/>
<circle cx="289.40" cy="464.20" r="2.55" fill="#e0961e"/>
<circle cx="291.40" cy="458.80" r="2.55" fill="#e0961e"/>
<circle cx="294.80" cy="460.20" r="2.55" fill="#e0961e"/>
<circle cx="299.50" cy="463.60" r="2.55" fill="#e0961e"/>
<circle cx="302.90" cy="457.50" r="2.55" fill="#e0961e"/>
<circle cx="306.20" cy="454.80" r="2.55" fill="#e0961e"/>
<circle cx="306.90" cy="460.20" r="2.55" fill="#e0961e"/>
<circle cx="306.20" cy="464.20" r="2.55" fill="#e0961e"/>
<circle cx="287.40" cy="461.50" r="2.55" fill="#e0961e"/>
<circle cx="297.00" cy="462.00" r="2.55" fill="#e0961e"/>
<circle cx="285.50" cy="458.00" r="2.55" fill="#e0961e"/>
<circle cx="293.00" cy="456.50" r="2.55" fill="#e0961e"/>
<circle cx="297.50" cy="457.50" r="2.55" fill="#e0961e"/>
<circle cx="300.50" cy="459.50" r="2.55" fill="#e0961e"/>
<circle cx="303.50" cy="462.50" r="2.55" fill="#e0961e"/>
<circle cx="295.50" cy="464.30" r="2.55" fill="#e0961e"/>
<circle cx="286.00" cy="463.50" r="2.55" fill="#e0961e"/>
<circle cx="291.50" cy="462.50" r="2.55" fill="#e0961e"/>
<circle cx="304.50" cy="457.80" r="2.55" fill="#e0961e"/>
<circle cx="281.50" cy="458.80" r="2.55" fill="#e0961e"/>
<circle cx="258.50" cy="393.80" r="2.55" fill="#63a83f"/>
<circle cx="258.50" cy="424.50" r="2.55" fill="#63a83f"/>
<circle cx="264.50" cy="424.50" r="2.55" fill="#63a83f"/>
<circle cx="258.50" cy="437.00" r="2.55" fill="#63a83f"/>
<circle cx="256.40" cy="449.70" r="2.55" fill="#63a83f"/>
<circle cx="262.80" cy="449.40" r="2.55" fill="#63a83f"/>
<circle cx="260.10" cy="454.10" r="2.55" fill="#63a83f"/>
<circle cx="258.50" cy="460.20" r="2.55" fill="#63a83f"/>
<line x1="258.50" y1="415.00" x2="258.50" y2="458.00" stroke="#111" stroke-width="1.1"/>
<line x1="255.30" y1="415.00" x2="261.70" y2="415.00" stroke="#111" stroke-width="1.2"/>
<line x1="255.30" y1="458.00" x2="261.70" y2="458.00" stroke="#111" stroke-width="1.2"/>
<line x1="251.30" y1="436.50" x2="265.50" y2="436.50" stroke="#111" stroke-width="1.3"/>
<line x1="294.80" y1="457.80" x2="294.80" y2="464.00" stroke="#111" stroke-width="1.1"/>
<line x1="291.60" y1="457.80" x2="298.00" y2="457.80" stroke="#111" stroke-width="1.2"/>
<line x1="291.60" y1="464.00" x2="298.00" y2="464.00" stroke="#111" stroke-width="1.2"/>
<line x1="288.00" y1="460.90" x2="300.20" y2="460.90" stroke="#111" stroke-width="1.3"/>
<line x1="237.80" y1="381.40" x2="237.80" y2="468.60" stroke="#111" stroke-width="1.2"/>
<line x1="234.60" y1="464.80" x2="237.80" y2="464.80" stroke="#111" stroke-width="1.0"/>
<text x="231.00" y="467.68" font-size="8.1" text-anchor="end" fill="#222" textLength="9.80" lengthAdjust="spacingAndGlyphs">0.0</text>
<line x1="234.60" y1="451.49" x2="237.80" y2="451.49" stroke="#111" stroke-width="1.0"/>
<text x="231.00" y="454.36" font-size="8.1" text-anchor="end" fill="#222" textLength="9.80" lengthAdjust="spacingAndGlyphs">0.5</text>
<line x1="234.60" y1="438.17" x2="237.80" y2="438.17" stroke="#111" stroke-width="1.0"/>
<text x="231.00" y="441.05" font-size="8.1" text-anchor="end" fill="#222" textLength="9.80" lengthAdjust="spacingAndGlyphs">1.0</text>
<line x1="234.60" y1="424.86" x2="237.80" y2="424.86" stroke="#111" stroke-width="1.0"/>
<text x="231.00" y="427.73" font-size="8.1" text-anchor="end" fill="#222" textLength="9.80" lengthAdjust="spacingAndGlyphs">1.5</text>
<line x1="234.60" y1="411.54" x2="237.80" y2="411.54" stroke="#111" stroke-width="1.0"/>
<text x="231.00" y="414.42" font-size="8.1" text-anchor="end" fill="#222" textLength="9.80" lengthAdjust="spacingAndGlyphs">2.0</text>
<line x1="234.60" y1="398.23" x2="237.80" y2="398.23" stroke="#111" stroke-width="1.0"/>
<text x="231.00" y="401.10" font-size="8.1" text-anchor="end" fill="#222" textLength="9.80" lengthAdjust="spacingAndGlyphs">2.5</text>
<line x1="234.60" y1="384.91" x2="237.80" y2="384.91" stroke="#111" stroke-width="1.0"/>
<text x="231.00" y="387.79" font-size="8.1" text-anchor="end" fill="#222" textLength="9.80" lengthAdjust="spacingAndGlyphs">3.0</text>
<line x1="255.80" y1="468.00" x2="297.50" y2="468.00" stroke="#111" stroke-width="1.3"/>
<line x1="258.50" y1="468.00" x2="258.50" y2="470.80" stroke="#111" stroke-width="1.0"/>
<line x1="294.80" y1="468.00" x2="294.80" y2="470.80" stroke="#111" stroke-width="1.0"/>
<text x="258.50" y="479.40" font-size="7.8" text-anchor="middle" fill="#222" textLength="10.69" lengthAdjust="spacingAndGlyphs">sen</text>
<text x="294.80" y="479.40" font-size="7.8" text-anchor="middle" fill="#222" textLength="9.21" lengthAdjust="spacingAndGlyphs">res</text>
<text x="276.30" y="375.50" font-size="10.3" text-anchor="middle" fill="#111" textLength="49.37" lengthAdjust="spacingAndGlyphs">BCL2/MCL1</text>
<text x="313.60" y="421.20" font-size="6.4" text-anchor="middle" fill="#222" textLength="34.88" lengthAdjust="spacingAndGlyphs" transform="rotate(-90 313.60 421.20)">P=&lt;0.00001</text>
<text x="8.00" y="509.60" font-size="12.5" text-anchor="start" fill="#000" textLength="8.85" lengthAdjust="spacingAndGlyphs" font-weight="bold" stroke="#000" stroke-width="0.35">C</text>
<text x="154.20" y="509.50" font-size="9.2" text-anchor="middle" fill="#222" textLength="37.33" lengthAdjust="spacingAndGlyphs">Sensitive</text>
<text x="382.50" y="509.50" font-size="9.2" text-anchor="middle" fill="#222" textLength="38.35" lengthAdjust="spacingAndGlyphs">Resistant</text>
<line x1="37.50" y1="515.20" x2="270.00" y2="515.20" stroke="#222" stroke-width="1.2"/>
<line x1="274.50" y1="515.20" x2="492.00" y2="515.20" stroke="#222" stroke-width="1.2"/>
<text x="65.00" y="528.90" font-size="9.5" text-anchor="middle" fill="#1a1a1a" textLength="47.61" lengthAdjust="spacingAndGlyphs">Karpas 620</text>
<line x1="37.50" y1="534.50" x2="93.00" y2="534.50" stroke="#222" stroke-width="1.2"/>
<text x="127.00" y="528.90" font-size="9.5" text-anchor="middle" fill="#1a1a1a" textLength="34.14" lengthAdjust="spacingAndGlyphs">OCIMy5</text>
<line x1="99.20" y1="534.50" x2="154.70" y2="534.50" stroke="#222" stroke-width="1.2"/>
<text x="188.60" y="528.90" font-size="9.5" text-anchor="middle" fill="#1a1a1a" textLength="25.87" lengthAdjust="spacingAndGlyphs">PCM6</text>
<line x1="161.50" y1="534.50" x2="217.00" y2="534.50" stroke="#222" stroke-width="1.2"/>
<text x="250.30" y="528.90" font-size="9.5" text-anchor="middle" fill="#1a1a1a" textLength="26.05" lengthAdjust="spacingAndGlyphs">H1112</text>
<line x1="230.60" y1="534.50" x2="269.90" y2="534.50" stroke="#222" stroke-width="1.2"/>
<text x="293.30" y="528.90" font-size="9.5" text-anchor="middle" fill="#1a1a1a" textLength="30.53" lengthAdjust="spacingAndGlyphs">KMS20</text>
<line x1="275.00" y1="534.50" x2="312.00" y2="534.50" stroke="#222" stroke-width="1.2"/>
<text x="336.00" y="528.90" font-size="9.5" text-anchor="middle" fill="#1a1a1a" textLength="30.53" lengthAdjust="spacingAndGlyphs">KMS28</text>
<line x1="317.00" y1="534.50" x2="354.50" y2="534.50" stroke="#222" stroke-width="1.2"/>
<text x="379.50" y="528.90" font-size="9.5" text-anchor="middle" fill="#1a1a1a" textLength="30.53" lengthAdjust="spacingAndGlyphs">KMS34</text>
<line x1="360.00" y1="534.50" x2="397.50" y2="534.50" stroke="#222" stroke-width="1.2"/>
<text x="428.80" y="528.90" font-size="9.5" text-anchor="middle" fill="#1a1a1a" textLength="44.49" lengthAdjust="spacingAndGlyphs">KMS21BM</text>
<line x1="406.30" y1="534.50" x2="450.00" y2="534.50" stroke="#222" stroke-width="1.2"/>
<text x="472.30" y="528.90" font-size="9.5" text-anchor="middle" fill="#1a1a1a" textLength="17.60" lengthAdjust="spacingAndGlyphs">PE1</text>
<line x1="454.50" y1="534.50" x2="492.00" y2="534.50" stroke="#222" stroke-width="1.2"/>
<text x="46.70" y="559.80" font-size="7.5" text-anchor="start" fill="#1a1a1a" textLength="16.68" lengthAdjust="spacingAndGlyphs" transform="rotate(-90 46.70 559.80)" stroke="#1a1a1a" stroke-width="0.08">Mcl-1</text>
<text x="66.90" y="559.80" font-size="7.5" fill="#1a1a1a" stroke="#1a1a1a" stroke-width="0.08" transform="rotate(-90 66.90 559.80)"><tspan textLength="15.17" lengthAdjust="spacingAndGlyphs">Bcl-x</tspan><tspan font-size="4.2" dy="3.0" dx="0.6">L</tspan></text>
<text x="88.70" y="559.80" font-size="7.5" text-anchor="start" fill="#1a1a1a" textLength="15.55" lengthAdjust="spacingAndGlyphs" transform="rotate(-90 88.70 559.80)" stroke="#1a1a1a" stroke-width="0.08">Bcl-2</text>
<text x="109.20" y="559.80" font-size="7.5" text-anchor="start" fill="#1a1a1a" textLength="16.68" lengthAdjust="spacingAndGlyphs" transform="rotate(-90 109.20 559.80)" stroke="#1a1a1a" stroke-width="0.08">Mcl-1</text>
<text x="129.70" y="559.80" font-size="7.5" fill="#1a1a1a" stroke="#1a1a1a" stroke-width="0.08" transform="rotate(-90 129.70 559.80)"><tspan textLength="15.17" lengthAdjust="spacingAndGlyphs">Bcl-x</tspan><tspan font-size="4.2" dy="3.0" dx="0.6">L</tspan></text>
<text x="151.90" y="559.80" font-size="7.5" text-anchor="start" fill="#1a1a1a" textLength="15.55" lengthAdjust="spacingAndGlyphs" transform="rotate(-90 151.90 559.80)" stroke="#1a1a1a" stroke-width="0.08">Bcl-2</text>
<text x="172.70" y="559.80" font-size="7.5" text-anchor="start" fill="#1a1a1a" textLength="16.68" lengthAdjust="spacingAndGlyphs" transform="rotate(-90 172.70 559.80)" stroke="#1a1a1a" stroke-width="0.08">Mcl-1</text>
<text x="193.80" y="559.80" font-size="7.5" fill="#1a1a1a" stroke="#1a1a1a" stroke-width="0.08" transform="rotate(-90 193.80 559.80)"><tspan textLength="15.17" lengthAdjust="spacingAndGlyphs">Bcl-x</tspan><tspan font-size="4.2" dy="3.0" dx="0.6">L</tspan></text>
<text x="214.80" y="559.80" font-size="7.5" text-anchor="start" fill="#1a1a1a" textLength="15.55" lengthAdjust="spacingAndGlyphs" transform="rotate(-90 214.80 559.80)" stroke="#1a1a1a" stroke-width="0.08">Bcl-2</text>
<text x="239.30" y="559.80" font-size="7.5" text-anchor="start" fill="#1a1a1a" textLength="16.68" lengthAdjust="spacingAndGlyphs" transform="rotate(-90 239.30 559.80)" stroke="#1a1a1a" stroke-width="0.08">Mcl-1</text>
<text x="253.10" y="559.80" font-size="7.5" fill="#1a1a1a" stroke="#1a1a1a" stroke-width="0.08" transform="rotate(-90 253.10 559.80)"><tspan textLength="15.17" lengthAdjust="spacingAndGlyphs">Bcl-x</tspan><tspan font-size="4.2" dy="3.0" dx="0.6">L</tspan></text>
<text x="267.80" y="559.80" font-size="7.5" text-anchor="start" fill="#1a1a1a" textLength="15.55" lengthAdjust="spacingAndGlyphs" transform="rotate(-90 267.80 559.80)" stroke="#1a1a1a" stroke-width="0.08">Bcl-2</text>
<text x="282.80" y="559.80" font-size="7.5" text-anchor="start" fill="#1a1a1a" textLength="16.68" lengthAdjust="spacingAndGlyphs" transform="rotate(-90 282.80 559.80)" stroke="#1a1a1a" stroke-width="0.08">Mcl-1</text>
<text x="297.50" y="559.80" font-size="7.5" fill="#1a1a1a" stroke="#1a1a1a" stroke-width="0.08" transform="rotate(-90 297.50 559.80)"><tspan textLength="15.17" lengthAdjust="spacingAndGlyphs">Bcl-x</tspan><tspan font-size="4.2" dy="3.0" dx="0.6">L</tspan></text>
<text x="311.50" y="559.80" font-size="7.5" text-anchor="start" fill="#1a1a1a" textLength="15.55" lengthAdjust="spacingAndGlyphs" transform="rotate(-90 311.50 559.80)" stroke="#1a1a1a" stroke-width="0.08">Bcl-2</text>
<text x="325.40" y="559.80" font-size="7.5" text-anchor="start" fill="#1a1a1a" textLength="16.68" lengthAdjust="spacingAndGlyphs" transform="rotate(-90 325.40 559.80)" stroke="#1a1a1a" stroke-width="0.08">Mcl-1</text>
<text x="340.30" y="559.80" font-size="7.5" fill="#1a1a1a" stroke="#1a1a1a" stroke-width="0.08" transform="rotate(-90 340.30 559.80)"><tspan textLength="15.17" lengthAdjust="spacingAndGlyphs">Bcl-x</tspan><tspan font-size="4.2" dy="3.0" dx="0.6">L</tspan></text>
<text x="355.30" y="559.80" font-size="7.5" text-anchor="start" fill="#1a1a1a" textLength="15.55" lengthAdjust="spacingAndGlyphs" transform="rotate(-90 355.30 559.80)" stroke="#1a1a1a" stroke-width="0.08">Bcl-2</text>
<text x="369.30" y="559.80" font-size="7.5" text-anchor="start" fill="#1a1a1a" textLength="16.68" lengthAdjust="spacingAndGlyphs" transform="rotate(-90 369.30 559.80)" stroke="#1a1a1a" stroke-width="0.08">Mcl-1</text>
<text x="384.30" y="559.80" font-size="7.5" fill="#1a1a1a" stroke="#1a1a1a" stroke-width="0.08" transform="rotate(-90 384.30 559.80)"><tspan textLength="15.17" lengthAdjust="spacingAndGlyphs">Bcl-x</tspan><tspan font-size="4.2" dy="3.0" dx="0.6">L</tspan></text>
<text x="398.80" y="559.80" font-size="7.5" text-anchor="start" fill="#1a1a1a" textLength="15.55" lengthAdjust="spacingAndGlyphs" transform="rotate(-90 398.80 559.80)" stroke="#1a1a1a" stroke-width="0.08">Bcl-2</text>
<text x="418.80" y="559.80" font-size="7.5" text-anchor="start" fill="#1a1a1a" textLength="16.68" lengthAdjust="spacingAndGlyphs" transform="rotate(-90 418.80 559.80)" stroke="#1a1a1a" stroke-width="0.08">Mcl-1</text>
<text x="433.80" y="559.80" font-size="7.5" fill="#1a1a1a" stroke="#1a1a1a" stroke-width="0.08" transform="rotate(-90 433.80 559.80)"><tspan textLength="15.17" lengthAdjust="spacingAndGlyphs">Bcl-x</tspan><tspan font-size="4.2" dy="3.0" dx="0.6">L</tspan></text>
<text x="447.80" y="559.80" font-size="7.5" text-anchor="start" fill="#1a1a1a" textLength="15.55" lengthAdjust="spacingAndGlyphs" transform="rotate(-90 447.80 559.80)" stroke="#1a1a1a" stroke-width="0.08">Bcl-2</text>
<text x="462.80" y="559.80" font-size="7.5" text-anchor="start" fill="#1a1a1a" textLength="16.68" lengthAdjust="spacingAndGlyphs" transform="rotate(-90 462.80 559.80)" stroke="#1a1a1a" stroke-width="0.08">Mcl-1</text>
<text x="476.80" y="559.80" font-size="7.5" fill="#1a1a1a" stroke="#1a1a1a" stroke-width="0.08" transform="rotate(-90 476.80 559.80)"><tspan textLength="15.17" lengthAdjust="spacingAndGlyphs">Bcl-x</tspan><tspan font-size="4.2" dy="3.0" dx="0.6">L</tspan></text>
<text x="491.30" y="559.80" font-size="7.5" text-anchor="start" fill="#1a1a1a" textLength="15.55" lengthAdjust="spacingAndGlyphs" transform="rotate(-90 491.30 559.80)" stroke="#1a1a1a" stroke-width="0.08">Bcl-2</text>
<text x="25.90" y="581.20" font-size="7.5" text-anchor="end" fill="#1a1a1a" textLength="11.88" lengthAdjust="spacingAndGlyphs" stroke="#1a1a1a" stroke-width="0.1">Bim</text>
<text x="25.60" y="600.60" font-size="7.5" text-anchor="end" fill="#1a1a1a" textLength="17.05" lengthAdjust="spacingAndGlyphs" stroke="#1a1a1a" stroke-width="0.1">Mcl-1</text>
<text x="8.0" y="620.7" font-size="7.5" fill="#1a1a1a" stroke="#1a1a1a" stroke-width="0.1"><tspan textLength="15.50" lengthAdjust="spacingAndGlyphs">Bcl-x</tspan><tspan font-size="4.2" dy="3.4" dx="1.0">L</tspan></text>
<text x="25.90" y="641.60" font-size="7.5" text-anchor="end" fill="#1a1a1a" textLength="15.89" lengthAdjust="spacingAndGlyphs" stroke="#1a1a1a" stroke-width="0.1">Bcl-2</text>
<defs><filter id="bl" x="-50%" y="-100%" width="200%" height="300%"><feGaussianBlur stdDeviation="1.2 0.8"/></filter><filter id="bl2" x="-20%" y="-20%" width="140%" height="140%"><feGaussianBlur stdDeviation="0.5"/></filter></defs>
<rect x="33.45" y="565.55" width="191.10" height="18.80" fill="#dbdbdb" stroke="#1e1e1e" stroke-width="1.3"/>
<rect x="33.45" y="586.75" width="191.10" height="17.90" fill="#dbdbdb" stroke="#1e1e1e" stroke-width="1.3"/>
<rect x="33.45" y="607.85" width="191.10" height="17.90" fill="#dbdbdb" stroke="#1e1e1e" stroke-width="1.3"/>
<rect x="33.45" y="628.85" width="191.10" height="17.70" fill="#dbdbdb" stroke="#1e1e1e" stroke-width="1.3"/>
<rect x="227.95" y="565.55" width="177.00" height="18.80" fill="#dbdbdb" stroke="#1e1e1e" stroke-width="1.3"/>
<rect x="227.95" y="586.75" width="177.00" height="17.90" fill="#dbdbdb" stroke="#1e1e1e" stroke-width="1.3"/>
<rect x="227.95" y="607.85" width="177.00" height="17.90" fill="#dbdbdb" stroke="#1e1e1e" stroke-width="1.3"/>
<rect x="227.95" y="628.85" width="177.00" height="17.70" fill="#dbdbdb" stroke="#1e1e1e" stroke-width="1.3"/>
<rect x="408.75" y="565.55" width="86.90" height="18.80" fill="#dbdbdb" stroke="#1e1e1e" stroke-width="1.3"/>
<rect x="408.75" y="586.75" width="86.90" height="17.90" fill="#dbdbdb" stroke="#1e1e1e" stroke-width="1.3"/>
<rect x="408.75" y="607.85" width="86.90" height="17.90" fill="#dbdbdb" stroke="#1e1e1e" stroke-width="1.3"/>
<rect x="408.75" y="628.85" width="86.90" height="17.70" fill="#dbdbdb" stroke="#1e1e1e" stroke-width="1.3"/>
<rect x="36.50" y="572.30" width="13.00" height="3.00" rx="1.50" fill="#a0a0a0" filter="url(#bl)"/>
<rect x="57.20" y="573.10" width="13.00" height="2.60" rx="1.30" fill="#b4b4b4" filter="url(#bl)"/>
<rect x="77.00" y="571.80" width="15.00" height="5.20" rx="2.60" fill="#262626" filter="url(#bl)"/>
<rect x="98.40" y="573.60" width="16.00" height="3.60" rx="1.80" fill="#505050" filter="url(#bl)"/>
<rect x="120.75" y="574.60" width="14.50" height="2.60" rx="1.30" fill="#959595" filter="url(#bl)"/>
<rect x="142.15" y="573.20" width="16.50" height="5.40" rx="2.70" fill="#1c1c1c" filter="url(#bl)"/>
<rect x="163.40" y="574.10" width="14.00" height="3.60" rx="1.80" fill="#707070" filter="url(#bl)"/>
<rect x="183.55" y="574.80" width="9.50" height="2.20" rx="1.10" fill="#c0c0c0" filter="url(#bl)"/>
<rect x="204.65" y="573.10" width="12.70" height="2.60" rx="1.30" fill="#a4a4a4" filter="url(#bl)"/>
<rect x="232.50" y="573.50" width="9.00" height="2.00" rx="1.00" fill="#cacaca" filter="url(#bl)"/>
<rect x="260.50" y="571.80" width="11.00" height="4.80" rx="2.40" fill="#262626" filter="url(#bl)"/>
<rect x="274.70" y="572.10" width="10.60" height="3.20" rx="1.60" fill="#858585" filter="url(#bl)"/>
<rect x="303.60" y="572.60" width="7.40" height="2.20" rx="1.10" fill="#bcbcbc" filter="url(#bl)"/>
<rect x="318.75" y="572.60" width="10.50" height="3.60" rx="1.80" fill="#606060" filter="url(#bl)"/>
<rect x="333.50" y="573.40" width="8.00" height="2.00" rx="1.00" fill="#c8c8c8" filter="url(#bl)"/>
<rect x="347.50" y="570.70" width="12.00" height="6.20" rx="3.00" fill="#1a1a1a" filter="url(#bl)"/>
<rect x="362.90" y="572.20" width="9.60" height="3.20" rx="1.60" fill="#848484" filter="url(#bl)"/>
<rect x="376.35" y="572.50" width="9.70" height="2.60" rx="1.30" fill="#b6b6b6" filter="url(#bl)"/>
<rect x="391.65" y="572.70" width="8.70" height="2.20" rx="1.10" fill="#c2c2c2" filter="url(#bl)"/>
<rect x="413.20" y="571.00" width="9.20" height="3.20" rx="1.60" fill="#959595" filter="url(#bl)"/>
<rect x="441.45" y="573.70" width="10.10" height="3.60" rx="1.80" fill="#606060" filter="url(#bl)"/>
<rect x="454.70" y="572.30" width="11.00" height="7.40" rx="3.00" fill="#161616" filter="url(#bl)"/>
<rect x="469.95" y="574.40" width="8.10" height="3.20" rx="1.60" fill="#b8b8b8" filter="url(#bl)"/>
<rect x="38.65" y="594.20" width="12.30" height="2.80" rx="1.40" fill="#707070" filter="url(#bl)"/>
<rect x="99.20" y="593.70" width="15.40" height="3.20" rx="1.60" fill="#343434" filter="url(#bl)"/>
<rect x="162.30" y="594.55" width="14.80" height="3.70" rx="1.85" fill="#262626" filter="url(#bl)"/>
<rect x="232.30" y="593.50" width="10.00" height="2.40" rx="1.20" fill="#959595" filter="url(#bl)"/>
<rect x="274.70" y="593.60" width="10.60" height="4.80" rx="2.40" fill="#161616" filter="url(#bl)"/>
<rect x="318.70" y="594.40" width="10.00" height="2.40" rx="1.20" fill="#9c9c9c" filter="url(#bl)"/>
<rect x="363.00" y="595.50" width="8.00" height="2.00" rx="1.00" fill="#bcbcbc" filter="url(#bl)"/>
<rect x="414.00" y="595.10" width="10.20" height="2.80" rx="1.40" fill="#727272" filter="url(#bl)"/>
<rect x="455.15" y="594.60" width="10.10" height="3.20" rx="1.60" fill="#404040" filter="url(#bl)"/>
<rect x="58.00" y="617.10" width="16.00" height="3.40" rx="1.70" fill="#4a4a4a" filter="url(#bl)"/>
<rect x="58.00" y="620.10" width="16.00" height="3.60" rx="1.80" fill="#2c2c2c" filter="url(#bl)"/>
<rect x="79.00" y="624.20" width="11.00" height="1.60" rx="0.80" fill="#b0b0b0" filter="url(#bl)"/>
<rect x="121.25" y="615.60" width="14.70" height="2.60" rx="1.30" fill="#606060" filter="url(#bl)"/>
<rect x="121.25" y="619.50" width="14.70" height="2.80" rx="1.40" fill="#606060" filter="url(#bl)"/>
<rect x="147.45" y="624.80" width="10.50" height="1.60" rx="0.80" fill="#888" filter="url(#bl)"/>
<rect x="184.45" y="618.10" width="4.30" height="3.20" rx="1.60" fill="#707070" filter="url(#bl)"/>
<rect x="194.50" y="617.75" width="3.00" height="2.50" rx="1.25" fill="#bababa" filter="url(#bl)"/>
<rect x="206.00" y="621.60" width="10.00" height="1.60" rx="0.80" fill="#c4c4c4" filter="url(#bl)"/>
<rect x="247.00" y="609.30" width="9.00" height="1.80" rx="0.90" fill="#bababa" filter="url(#bl)"/>
<rect x="247.00" y="616.80" width="9.00" height="2.60" rx="1.30" fill="#959595" filter="url(#bl)"/>
<rect x="288.00" y="616.80" width="10.00" height="2.60" rx="1.30" fill="#959595" filter="url(#bl)"/>
<rect x="331.20" y="608.30" width="11.00" height="1.80" rx="0.90" fill="#bcbcbc" filter="url(#bl)"/>
<rect x="331.15" y="614.80" width="11.10" height="3.80" rx="1.90" fill="#363636" filter="url(#bl)"/>
<rect x="347.00" y="621.20" width="9.00" height="1.60" rx="0.80" fill="#bcbcbc" filter="url(#bl)"/>
<rect x="374.00" y="614.60" width="10.60" height="3.20" rx="1.60" fill="#454545" filter="url(#bl)"/>
<rect x="428.70" y="611.70" width="9.20" height="2.60" rx="1.30" fill="#959595" filter="url(#bl)"/>
<rect x="428.70" y="615.00" width="9.20" height="2.60" rx="1.30" fill="#959595" filter="url(#bl)"/>
<rect x="468.60" y="612.70" width="12.20" height="3.20" rx="1.60" fill="#606060" filter="url(#bl)"/>
<rect x="468.60" y="615.90" width="12.20" height="3.40" rx="1.70" fill="#1e1e1e" filter="url(#bl)"/>
<rect x="455.00" y="621.20" width="8.00" height="1.60" rx="0.80" fill="#bcbcbc" filter="url(#bl)"/>
<rect x="79.55" y="635.90" width="13.90" height="2.80" rx="1.40" fill="#505050" filter="url(#bl)"/>
<rect x="145.40" y="637.70" width="14.80" height="3.20" rx="1.60" fill="#363636" filter="url(#bl)"/>
<rect x="206.65" y="637.20" width="11.70" height="2.20" rx="1.10" fill="#959595" filter="url(#bl)"/>
<rect x="260.55" y="634.50" width="11.90" height="5.20" rx="2.60" fill="#161616" filter="url(#bl)"/>
<rect x="304.55" y="636.80" width="10.90" height="2.80" rx="1.40" fill="#606060" filter="url(#bl)"/>
<rect x="348.00" y="635.80" width="13.00" height="4.20" rx="2.10" fill="#262626" filter="url(#bl)"/>
<rect x="391.65" y="636.80" width="10.30" height="2.20" rx="1.10" fill="#959595" filter="url(#bl)"/>
<rect x="443.40" y="636.10" width="11.80" height="4.20" rx="2.10" fill="#262626" filter="url(#bl)"/>
<rect x="485.00" y="637.20" width="6.00" height="1.60" rx="0.80" fill="#cacaca" filter="url(#bl)"/>
<line x1="272.50" y1="498.00" x2="272.50" y2="648.60" stroke="#111" stroke-width="1.1"/>
<line x1="496.30" y1="576.60" x2="501.00" y2="576.60" stroke="#222" stroke-width="1.1"/>
<text x="504.30" y="579.20" font-size="7.2" text-anchor="start" fill="#222" textLength="7.77" lengthAdjust="spacingAndGlyphs">25</text>
<line x1="496.30" y1="599.50" x2="501.00" y2="599.50" stroke="#222" stroke-width="1.1"/>
<text x="504.30" y="602.10" font-size="7.2" text-anchor="start" fill="#222" textLength="7.77" lengthAdjust="spacingAndGlyphs">37</text>
<line x1="496.30" y1="621.70" x2="501.00" y2="621.70" stroke="#222" stroke-width="1.1"/>
<text x="504.30" y="624.30" font-size="7.2" text-anchor="start" fill="#222" textLength="7.77" lengthAdjust="spacingAndGlyphs">25</text>
<line x1="496.30" y1="638.20" x2="501.00" y2="638.20" stroke="#222" stroke-width="1.1"/>
<text x="504.30" y="640.80" font-size="7.2" text-anchor="start" fill="#222" textLength="7.77" lengthAdjust="spacingAndGlyphs">25</text>
<rect x="0.00" y="0.00" width="520.00" height="1.10" fill="#000"/>
<rect x="0.00" y="0.00" width="1.10" height="657.00" fill="#000"/>
<rect x="518.60" y="0.00" width="1.40" height="657.00" fill="#000"/>
<rect x="0.00" y="655.70" width="520.00" height="1.30" fill="#000"/>
</svg></body></html>
